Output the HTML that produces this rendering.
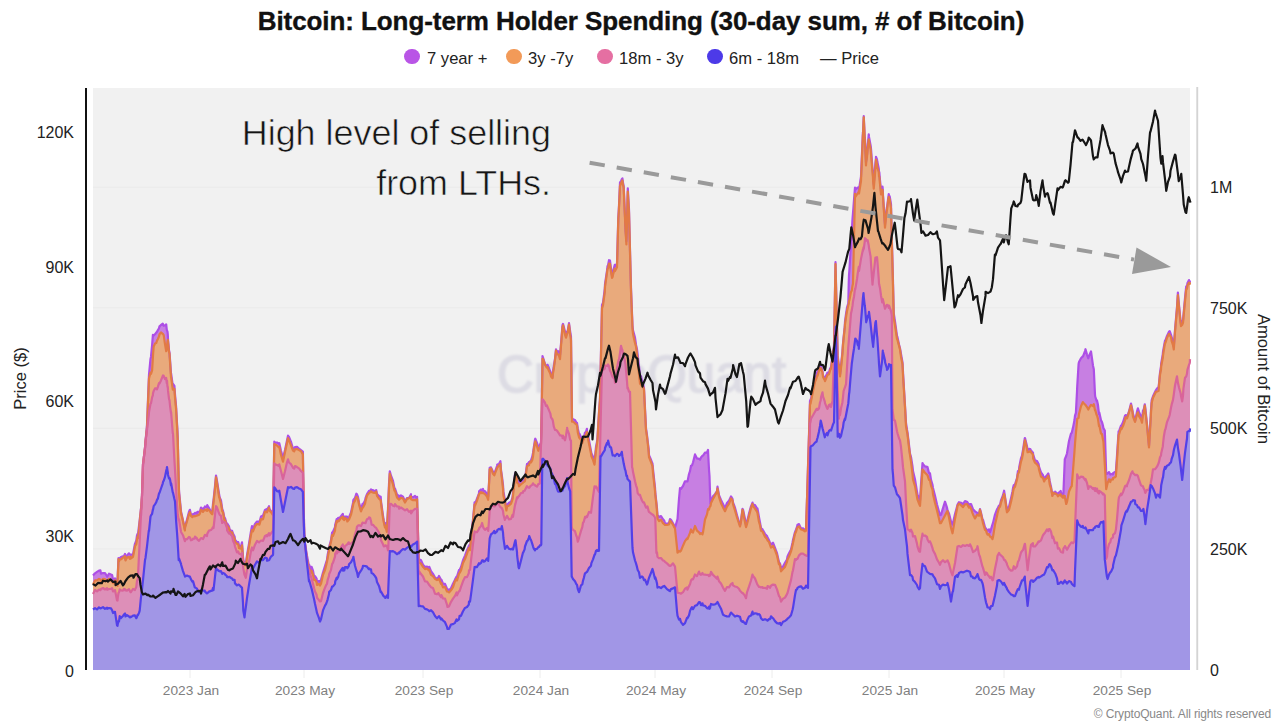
<!DOCTYPE html>
<html><head><meta charset="utf-8"><style>
html,body{margin:0;padding:0;background:#fff;width:1280px;height:725px;overflow:hidden}
body{position:relative;font-family:"Liberation Sans",sans-serif}
svg{position:absolute;left:0;top:0}
.title{position:absolute;left:0;width:1282px;top:6px;text-align:center;font-weight:bold;font-size:26px;letter-spacing:-0.08px;-webkit-text-stroke:0.35px #111;color:#111;white-space:nowrap}
.legend{position:absolute;top:47.5px;left:0;width:1280px;height:22px;font-size:16.6px;color:#222}
.li{position:absolute;top:0;white-space:nowrap;line-height:22px}
.dot{position:absolute;width:15.5px;height:15.5px;border-radius:50%;top:1px}
.copy{position:absolute;right:9px;top:707px;font-size:12px;letter-spacing:-0.15px;color:#888;white-space:nowrap}
</style></head><body>
<svg width="1280" height="725" viewBox="0 0 1280 725">
<defs><filter id="bl" x="-5%" y="-20%" width="110%" height="140%"><feGaussianBlur stdDeviation="1"/></filter></defs>
<rect x="93" y="88" width="1097" height="582" fill="#f1f1f1"/>
<line x1="93" x2="1190" y1="548.9" y2="548.9" stroke="#eaeaea" stroke-width="1"/><line x1="93" x2="1190" y1="428.3" y2="428.3" stroke="#eaeaea" stroke-width="1"/><line x1="93" x2="1190" y1="307.7" y2="307.7" stroke="#eaeaea" stroke-width="1"/><line x1="93" x2="1190" y1="187.1" y2="187.1" stroke="#eaeaea" stroke-width="1"/>
<text x="641.5" y="392" text-anchor="middle" font-size="51" fill="#dddce4" stroke="#dddce4" stroke-width="1.5" filter="url(#bl)" font-family="Liberation Sans, sans-serif">CryptoQuant</text>
<path d="M93,575.5 L95,573.3 L97,571.9 L99,570.6 L100.4,570.4 L101,573.6 L103,573.0 L105,573.1 L107,576.1 L107.3,576.7 L109,573.7 L111,574.6 L112.1,575.0 L113,579.3 L114.9,580.1 L115,578.3 L117,581.9 L117.5,583.2 L117.7,576.2 L118.5,558.2 L119,558.8 L119.7,558.2 L121,557.0 L123,556.3 L123.9,556.2 L125,553.9 L125.2,556.9 L125.5,559.3 L127,555.5 L129,553.3 L130,554.7 L130.8,554.9 L131,554.6 L133,554.4 L134.9,543.9 L135,543.9 L136.3,540.5 L137,535.4 L137.7,533.7 L138,534.2 L139,526.0 L139.7,520.1 L141,508.0 L141.1,508.9 L142,495.5 L143,464.4 L145,448.0 L145.5,441.6 L147,425.0 L148.8,379.4 L149,374.5 L150.5,358.9 L151,356.7 L152.1,345.2 L152.9,334.9 L153,336.2 L153.7,335.5 L155,334.3 L156.2,332.7 L157,331.7 L157.9,330.0 L159,328.3 L159.5,326.4 L161,325.0 L162.8,323.7 L163,325.0 L163.7,325.8 L165,325.2 L166.2,324.3 L166.75,329.6 L167,330.5 L167.5,331.6 L167.8,334.6 L168,339.0 L169,350.3 L169.5,352.5 L170,359.3 L171,373.6 L171.1,373.4 L172.8,385.6 L173,383.8 L174.4,385.8 L175,394.3 L176.1,406.6 L177,422.9 L177.5,431.4 L177.7,436.5 L178.7,478.6 L179,490.7 L181,511.2 L181.2,512.2 L183,520.5 L184.9,529.6 L185,526.8 L187,519.5 L189,511.7 L189.9,509.8 L191,514.8 L192.4,515.2 L193,514.0 L194.8,513.7 L195,512.9 L197,513.6 L197.3,511.9 L199,511.9 L199.8,512.0 L201,507.5 L203,509.5 L204.8,506.9 L205,506.4 L207,507.2 L207.3,505.2 L209,508.0 L211,511.7 L212.2,513.6 L213,503.7 L213.5,500.3 L215,486.1 L216,475.5 L217,480.9 L219,493.6 L219.7,497.4 L221,500.5 L222.2,509.0 L223,511.0 L224.7,519.3 L225,518.1 L227,525.2 L227.1,523.4 L229,526.4 L229.6,529.4 L231,530.5 L232.1,530.8 L233,533.6 L234.6,536.5 L235,539.6 L237,542.1 L238.3,542.1 L239,545.8 L241,546.2 L242,542.4 L243,556.8 L243.3,559.8 L244.5,563.5 L245,562.6 L245.8,563.3 L247,555.2 L249,543.7 L251,531.3 L252,526.0 L253,529.1 L255,523.9 L257,521.5 L259,521.5 L259.4,522.6 L261,516.4 L263,515.5 L265,509.9 L266.9,509.0 L267,510.2 L269,506.2 L269.4,508.8 L271,511.1 L273,512.0 L273.1,511.1 L274.3,441.7 L275,442.7 L277,442.5 L279,443.9 L279.3,443.2 L281,450.7 L283,458.2 L285,450.1 L287,440.6 L288,435.7 L289,437.0 L291,441.9 L293,448.7 L294.2,449.7 L295,447.2 L297,446.8 L299,448.7 L301,450.2 L302.9,451.6 L303,460.1 L304.2,534.9 L305,543.8 L307,555.8 L309,566.3 L309.1,564.7 L311,569.1 L311.6,566.8 L313,570.7 L314.1,576.7 L315,576.1 L316.6,578.6 L317,582.4 L319,580.9 L320,581.9 L321,579.9 L323,572.5 L325,566.1 L326.1,562.6 L327,559.8 L327.6,555.3 L329,548.0 L329.1,547.1 L331,540.1 L332.1,532.6 L333,531.8 L335,527.2 L335.2,524.7 L336.7,519.1 L337,519.7 L338.2,517.8 L339,518.7 L341,516.2 L342.8,513.8 L343,515.5 L344.3,517.4 L345,516.6 L347,516.6 L347.3,519.6 L348.8,518.2 L349,517.2 L351,512.4 L353,502.9 L353.4,500.0 L355,497.9 L356.4,493.7 L357,494.3 L358,497.0 L359,502.8 L361,509.8 L362.5,503.9 L363,504.4 L365,500.6 L365.5,498.1 L367,494.1 L368.6,491.5 L369,490.9 L370.1,490.8 L371,489.4 L371.6,489.9 L373,490.2 L375,491.2 L376.2,490.1 L377,493.9 L379,496.1 L380.7,496.8 L381,501.1 L383,515.6 L383.8,520.5 L385,525.9 L385.3,523.0 L386.8,528.7 L387,525.6 L388,508.7 L388.3,500.7 L389,484.2 L389.8,471.3 L391,475.7 L393,481.0 L394.4,488.1 L395,488.6 L397,494.7 L398.9,495.7 L399,497.1 L401,495.4 L403,496.6 L405,501.4 L407,498.2 L409,497.9 L411,494.2 L411.1,496.5 L413,497.3 L415,495.8 L417,498.9 L417.1,496.8 L418.7,558.8 L419,559.1 L421,560.3 L423,564.7 L425,567.0 L427,566.5 L429,568.3 L429.3,566.8 L431,571.1 L433,573.9 L435,577.5 L437,579.0 L438.4,577.1 L439,575.9 L441,579.7 L441.4,579.7 L443,583.7 L445,583.9 L447,588.6 L447.5,589.2 L449,590.1 L451,588.3 L453,583.8 L455,579.6 L456.6,576.5 L457,576.5 L459,570.1 L459.6,569.9 L461,567.0 L463,560.3 L465,555.6 L467,550.2 L468.8,546.2 L469,545.4 L470,548.3 L471,537.8 L473,519.4 L474.6,502.3 L475,504.0 L477,498.6 L479,493.4 L479.1,491.4 L481,489.5 L482.1,490.7 L483,489.0 L483.7,491.3 L485,491.1 L487,494.1 L488.2,496.6 L489,483.0 L489.7,467.8 L491,467.4 L493,471.7 L494.3,473.6 L495,471.9 L497,466.0 L497.3,464.5 L499,464.0 L500.4,461.2 L501,469.8 L501.9,476.0 L503,484.9 L503.4,491.4 L504.9,499.6 L505,500.9 L506.4,508.2 L507,504.9 L509,502.8 L511,501.8 L512.5,497.4 L513,492.5 L515,473.9 L515.5,472.7 L517,475.5 L517.1,480.1 L518.6,481.0 L519,482.5 L521,481.3 L523,479.9 L523.1,479.9 L524.6,478.6 L525,478.9 L527,464.1 L527.7,463.8 L529,462.1 L529.2,462.0 L530.7,460.8 L531,460.3 L532.2,456.9 L533,453.0 L533.8,447.3 L535,439.6 L535.3,438.7 L537,442.9 L538.3,447.6 L539,446.4 L539.8,444.9 L541,442.5 L541.3,432.9 L542.3,371.5 L542.5,356.0 L543,357.6 L545,363.9 L545.9,365.9 L547,366.1 L547.5,364.8 L549,368.2 L550.4,371.8 L551,374.4 L552.5,377.1 L553,370.6 L553.75,366.6 L555,358.7 L556,349.3 L557,351.9 L558,351.1 L559,352.0 L560,355.1 L561,343.6 L562.5,325.1 L562.6,324.9 L563,323.9 L565,331.6 L566,335.6 L567,332.7 L567.1,331.5 L567.5,332.1 L569,323.2 L570.2,331.6 L571,336.7 L571.7,392.3 L572,418.1 L573,419.3 L575,420.0 L576.3,422.4 L577,422.9 L577.8,428.5 L579,433.8 L579.3,433.6 L581,437.1 L582.3,441.5 L583,438.8 L583.8,437.7 L585,432.5 L585.4,433.7 L586.9,428.8 L587,431.7 L589,440.1 L591,451.0 L591.4,453.1 L593,456.8 L594.5,462.1 L595,456.4 L596,446.8 L597,441.8 L597.5,436.8 L599,412.2 L600,398.7 L600.5,376.0 L601,351.1 L602,305.0 L603,302.8 L604.8,288.7 L605,284.2 L607,270.7 L607.5,266.2 L608.1,265.0 L609,260.2 L610,260.6 L611,268.8 L612,275.1 L612.7,273.2 L613,271.5 L614.7,264.9 L615,266.8 L617,263.4 L618.3,217.6 L618.8,209.2 L619,205.8 L620,182.5 L621,181.3 L621.8,179.1 L622.4,178.4 L623,182.6 L623.7,186.2 L625,215.6 L625.5,228.7 L626.3,239.6 L626.4,241.1 L627,218.7 L627.5,198.6 L627.8,188.4 L629,209.6 L630,250.1 L631,287.5 L632.1,315.7 L632.5,325.6 L633,330.4 L635,337.6 L636,344.7 L637,349.5 L637.7,355.0 L639,366.1 L640,375.0 L641,376.3 L642,380.4 L643,383.4 L644,388.2 L645,408.2 L646,428.4 L647,435.0 L647.5,439.7 L648.7,449.2 L649,455.1 L651,459.8 L652.5,463.7 L653,469.1 L655,487.3 L655.3,492.5 L656.4,502.7 L657,508.4 L657.5,515.4 L659,516.9 L661,516.1 L663,519.3 L664.2,520.5 L665,523.3 L667,523.8 L669,523.1 L670,519.1 L671,519.9 L673,523.3 L675,527.8 L677,520.8 L677.5,519.1 L679,498.8 L680,488.1 L681,488.8 L683,486.0 L685,481.3 L687,481.1 L687.5,481.4 L689,474.0 L690,471.1 L691,465.7 L692,465.4 L693,462.5 L695,454.4 L697,458.4 L699,458.8 L700,459.7 L701,457.5 L702.5,455.6 L703,455.6 L705,452.6 L707,452.3 L708,449.9 L709,469.6 L709.5,476.1 L710,492.4 L710.5,503.8 L711,501.6 L713,496.2 L715,494.2 L717,491.0 L717.5,486.7 L719,495.2 L721,500.0 L723,504.0 L725,508.5 L727,503.0 L729,500.6 L731,496.4 L732.5,498.8 L733,502.4 L735,507.7 L737,515.4 L739,522.1 L740,525.3 L741,520.7 L742.5,508.9 L743,509.5 L745,518.9 L746,524.8 L747,522.2 L749,513.6 L751,506.3 L752.5,502.6 L753,504.5 L755,505.1 L757,508.4 L757.5,508.6 L759,517.2 L760,522.5 L761,528.0 L762.5,529.3 L763,530.3 L765,533.9 L767,536.0 L767.5,537.2 L769,540.2 L770,543.1 L771,544.4 L772.5,543.2 L773,542.7 L775,547.9 L777,553.2 L779,562.3 L780,563.4 L781,568.2 L783,566.5 L785,562.9 L787,559.5 L787.5,556.4 L789,553.2 L791,549.6 L792.5,542.8 L793,540.0 L795,532.1 L796,529.7 L797,526.9 L797.5,524.7 L799,524.1 L801,528.5 L803,528.3 L805,530.4 L806,528.3 L807,498.8 L808,466.1 L809,434.4 L810,400.8 L810.5,399.6 L811,398.7 L813,388.5 L815,379.5 L816.6,374.5 L817,372.4 L817.5,371.7 L819,367.9 L820,366.2 L820.7,367.7 L821,365.7 L822.5,371.0 L823,375.5 L824.8,378.6 L825,377.8 L827,373.7 L827.5,372.5 L829,372.6 L830,368.7 L830.3,368.2 L831,367.0 L832.5,356.1 L833,351.2 L834,346.3 L835,291.1 L835.5,262.2 L835.9,278.8 L837,327.2 L837.7,355.4 L838.9,366.0 L839,364.5 L840,374.7 L841,365.6 L842.4,352.1 L843,343.7 L843.6,337.4 L844.8,326.0 L845,321.6 L846,314.1 L847,307.6 L848.3,303.4 L848.75,282.4 L849,275.4 L849.4,270.2 L850.6,249.8 L851,241.8 L851.8,230.8 L852.5,219.1 L853,213.1 L854,199.9 L855,187.6 L855.3,189.6 L857,188.2 L857.7,187.6 L858.75,187.8 L858.8,187.2 L859,189.4 L861,176.6 L862.9,132.2 L863,133.6 L863.5,121.5 L863.75,116.2 L864.8,138.0 L865,139.5 L866,162.5 L866.2,160.6 L867,154.8 L867.7,145.6 L868.75,134.4 L869,136.9 L870.6,145.5 L871,148.7 L872.5,169.2 L873,174.0 L873.1,176.7 L873.75,184.1 L875,168.6 L875.4,162.8 L875.9,159.0 L876,156.8 L877,159.5 L877.3,161.6 L878.75,168.5 L879,171.6 L879.3,172.2 L880,180.2 L881,190.5 L882.2,190.4 L882.5,186.7 L882.8,189.4 L883,195.1 L885,224.4 L885.1,222.6 L886.9,207.1 L887,207.4 L888,199.7 L888.75,194.2 L889,195.5 L889.7,196.4 L891,204.1 L891.8,237.4 L892.5,262.7 L893,281.8 L893.75,313.1 L895,321.5 L897,335.8 L897.5,337.2 L899,344.5 L900,348.2 L901,354.0 L902.5,362.4 L903,372.0 L905,405.6 L906,422.8 L907,429.7 L907.5,432.5 L909,444.8 L910,453.6 L911,457.0 L912.5,466.4 L913,471.1 L915,479.5 L917,491.7 L917.5,494.8 L919,497.8 L920,500.5 L921,484.6 L922.5,463.0 L923,464.1 L925,466.4 L927,466.8 L927.5,467.0 L929,472.9 L930,473.3 L931,479.8 L932.5,484.8 L933,488.0 L935,495.8 L937,504.5 L939,511.7 L940,515.2 L941,514.7 L943,508.0 L945,501.7 L947,507.7 L947.5,510.2 L949,513.4 L951,521.4 L952.5,524.5 L953,522.9 L955,514.0 L957,506.9 L957.5,504.5 L959,502.2 L961,502.7 L963,504.1 L965,501.1 L967,501.7 L969,504.9 L970,504.1 L971,504.0 L972.5,507.8 L973,509.4 L975,511.4 L977,512.6 L977.5,513.7 L979,513.9 L980,509.0 L981,512.7 L982.5,519.6 L983,519.9 L985,527.4 L986,528.5 L987,530.7 L987.5,530.6 L989,529.3 L990,532.5 L991,529.3 L992.5,524.4 L993,522.9 L995,514.6 L997,509.3 L997.5,508.7 L999,505.6 L1000,505.4 L1001,500.3 L1003,495.2 L1004.1,490.7 L1005,496.6 L1006.9,509.6 L1007,508.7 L1009,506.7 L1011,498.3 L1012.5,491.5 L1013,488.1 L1013.8,485.1 L1015,484.3 L1017,478.1 L1017.9,471.3 L1019,470.1 L1019.3,466.7 L1021,458.1 L1022,455.8 L1023,450.0 L1024.8,438.1 L1025,438.1 L1027,446.3 L1027.6,450.4 L1029,448.8 L1030.3,449.1 L1031,450.4 L1033,452.7 L1033.1,454.4 L1035,460.3 L1037,461.0 L1038.6,464.0 L1039,466.7 L1041,472.5 L1043,475.2 L1044.1,479.2 L1045,477.4 L1047,475.2 L1048.3,473.5 L1049,476.5 L1049.7,480.9 L1051,486.7 L1052.4,495.3 L1053,492.4 L1055,493.6 L1055.2,491.7 L1057,493.6 L1057.9,493.6 L1059,492.6 L1060.7,491.0 L1061,492.8 L1063,495.2 L1063.4,493.4 L1064.8,459.1 L1065,458.8 L1066.2,456.0 L1067,453.3 L1069,441.0 L1071,433.5 L1071.7,432.9 L1073,427.6 L1074.5,420.0 L1075,415.6 L1075.9,412.9 L1077,391.6 L1077.2,386.9 L1078.6,363.9 L1079,361.9 L1081,358.2 L1082.8,356.3 L1083,356.4 L1085,351.1 L1085.5,349.2 L1087,354.6 L1088.3,358.3 L1089,355.9 L1091,351.4 L1093,365.7 L1093.8,369.2 L1095,394.5 L1095.2,396.5 L1096.6,400.9 L1097,400.4 L1097.9,404.5 L1099,414.0 L1099.3,412.5 L1101,420.3 L1102,422.1 L1103,425.7 L1103.4,428.1 L1104.8,430.5 L1105,436.1 L1106.2,473.8 L1107,473.8 L1107.6,473.6 L1109,472.1 L1110.3,474.5 L1111,474.0 L1113,474.4 L1113.1,473.1 L1115,471.9 L1115.9,471.4 L1117,455.7 L1118.6,431.3 L1119,431.4 L1121,425.6 L1121.4,425.8 L1123,422.3 L1125,415.7 L1125.5,415.1 L1126.9,415.6 L1127,416.9 L1129,411.5 L1131,403.6 L1132.4,410.1 L1133,413.9 L1135,420.4 L1135.2,420.6 L1137,411.6 L1137.9,408.3 L1139,411.9 L1141,416.6 L1142,419.4 L1143,410.4 L1143.4,411.3 L1144.8,404.3 L1145,405.6 L1145.4,408.6 L1147,424.2 L1149,445.6 L1150.7,415.8 L1151,409.5 L1151.7,400.1 L1153,396.3 L1155,392.0 L1156,390.0 L1157,388.5 L1158.6,387.0 L1159,383.4 L1160,372.8 L1161,366.2 L1161.2,363.5 L1162.8,354.1 L1163,351.7 L1163.8,347.1 L1165,340.6 L1165.5,340.2 L1167,335.9 L1169,331.6 L1169.7,331.1 L1171,334.8 L1171.7,337.4 L1173,342.3 L1173.8,346.5 L1175,330.0 L1177,306.9 L1177.9,292.6 L1179,305.2 L1180.7,322.2 L1181,323.5 L1182.2,320.8 L1183,320.6 L1183.4,316.2 L1185,298.1 L1186.2,286.4 L1187,287.2 L1187.4,283.3 L1189,280.1 L1189.8,281.8 L1190,280.6 L1190,670 L93,670 Z" fill="#c77fe2"/>
<path d="M93,584.5 L95,580.4 L97,580.4 L99,578.9 L100.4,579.8 L101,581.8 L103,578.9 L105,579.2 L107,581.0 L107.3,580.7 L109,578.8 L111,580.7 L112.1,581.1 L113,583.1 L114.9,583.3 L115,580.3 L117,584.2 L117.5,585.9 L117.7,578.2 L118.5,559.2 L119,561.3 L119.7,559.8 L121,559.3 L123,557.6 L123.9,557.1 L125,556.2 L125.2,558.4 L125.5,560.4 L127,557.6 L129,556.9 L130,558.9 L130.8,556.7 L131,558.4 L133,556.8 L134.9,547.1 L135,546.1 L136.3,544.2 L137,539.3 L137.7,536.3 L138,538.2 L139,529.8 L139.7,522.0 L141,509.4 L141.1,509.7 L142,495.5 L143,464.4 L145,448.0 L145.5,441.6 L147,427.4 L148.8,383.4 L149,378.5 L150.5,372.5 L151,373.8 L152.1,370.5 L152.9,357.5 L153,355.1 L153.7,346.5 L155,343.6 L156.2,343.1 L157,340.6 L157.9,339.0 L159,336.4 L159.5,334.2 L161,332.5 L162.8,333.8 L163,334.2 L163.7,335.2 L165,344.1 L166.2,351.2 L166.75,349.5 L167,346.0 L167.5,341.2 L167.8,339.8 L168,341.4 L169,351.9 L169.5,353.7 L170,361.8 L171,377.3 L171.1,377.2 L172.8,389.6 L173,388.2 L174.4,389.0 L175,397.8 L176.1,409.2 L177,425.7 L177.5,435.4 L177.7,438.9 L178.7,480.7 L179,493.3 L181,513.6 L181.2,514.0 L183,521.3 L184.9,530.5 L185,527.7 L187,521.2 L189,514.0 L189.9,512.2 L191,515.9 L192.4,517.2 L193,516.3 L194.8,516.0 L195,516.3 L197,515.5 L197.3,515.5 L199,514.7 L199.8,513.7 L201,509.9 L203,511.9 L204.8,509.6 L205,509.7 L207,510.9 L207.3,509.2 L209,510.1 L211,513.0 L212.2,514.3 L213,506.6 L213.5,502.4 L215,489.0 L216,477.3 L217,482.9 L219,496.7 L219.7,498.7 L221,503.8 L222.2,511.2 L223,512.3 L224.7,521.7 L225,520.1 L227,526.4 L227.1,525.7 L229,528.1 L229.6,531.2 L231,532.9 L232.1,532.3 L233,535.8 L234.6,538.8 L235,541.9 L237,543.7 L238.3,544.4 L239,548.3 L241,548.8 L242,545.4 L243,559.0 L243.3,562.6 L244.5,565.2 L245,564.9 L245.8,565.4 L247,557.7 L249,546.4 L251,534.8 L252,530.1 L253,531.4 L255,526.3 L257,524.1 L259,524.2 L259.4,524.7 L261,519.1 L263,519.3 L265,511.7 L266.9,511.5 L267,512.4 L269,507.7 L269.4,510.2 L271,512.2 L273,515.1 L273.1,514.4 L274.3,444.0 L275,444.4 L277,445.5 L279,447.5 L279.3,446.8 L281,454.9 L283,461.7 L285,452.1 L287,442.9 L288,438.1 L289,440.4 L291,445.3 L293,450.6 L294.2,451.4 L295,449.4 L297,449.0 L299,450.1 L301,451.2 L302.9,454.4 L303,462.3 L304.2,534.9 L305,543.8 L307,558.9 L309,569.7 L309.1,568.4 L311,572.8 L311.6,570.8 L313,574.6 L314.1,580.0 L315,579.7 L316.6,582.1 L317,584.9 L319,584.0 L320,585.5 L321,583.8 L323,574.7 L325,570.0 L326.1,565.4 L327,561.5 L327.6,558.3 L329,550.8 L329.1,548.9 L331,542.0 L332.1,535.1 L333,535.9 L335,530.7 L335.2,528.1 L336.7,521.0 L337,522.4 L338.2,520.5 L339,521.0 L341,517.8 L342.8,516.6 L343,518.9 L344.3,520.1 L345,518.0 L347,519.5 L347.3,521.5 L348.8,519.7 L349,519.6 L351,514.7 L353,505.5 L353.4,503.5 L355,500.6 L356.4,496.9 L357,497.1 L358,499.3 L359,504.5 L361,511.4 L362.5,507.6 L363,507.6 L365,503.8 L365.5,501.0 L367,495.6 L368.6,493.6 L369,493.2 L370.1,492.2 L371,491.3 L371.6,491.9 L373,492.6 L375,492.9 L376.2,491.6 L377,495.8 L379,498.7 L380.7,500.2 L381,503.4 L383,518.1 L383.8,522.2 L385,527.4 L385.3,525.7 L386.8,531.8 L387,529.8 L388,511.2 L388.3,504.4 L389,488.0 L389.8,473.7 L391,478.1 L393,484.4 L394.4,490.6 L395,490.6 L397,497.4 L398.9,499.5 L399,499.6 L401,497.8 L403,498.6 L405,502.6 L407,498.9 L409,498.2 L411,496.4 L411.1,499.3 L413,500.2 L415,499.8 L417,501.0 L417.1,499.4 L418.7,561.5 L419,562.4 L421,563.7 L423,566.8 L425,569.1 L427,568.5 L429,570.6 L429.3,570.0 L431,574.8 L433,576.1 L435,578.9 L437,580.1 L438.4,579.4 L439,578.7 L441,583.9 L441.4,582.9 L443,587.3 L445,586.9 L447,591.5 L447.5,591.4 L449,592.4 L451,590.3 L453,587.2 L455,581.2 L456.6,578.8 L457,580.4 L459,573.6 L459.6,572.9 L461,570.4 L463,563.0 L465,559.0 L467,553.5 L468.8,548.2 L469,548.4 L470,550.2 L471,539.1 L473,521.4 L474.6,504.7 L475,505.6 L477,500.6 L479,494.3 L479.1,494.2 L481,492.1 L482.1,493.2 L483,492.6 L483.7,493.4 L485,494.1 L487,496.6 L488.2,499.8 L489,484.7 L489.7,469.4 L491,468.3 L493,473.8 L494.3,475.3 L495,473.4 L497,468.3 L497.3,467.5 L499,465.5 L500.4,463.9 L501,471.4 L501.9,478.7 L503,488.3 L503.4,495.6 L504.9,501.7 L505,501.8 L506.4,510.5 L507,506.5 L509,505.5 L511,503.6 L512.5,499.4 L513,495.3 L515,477.6 L515.5,475.4 L517,479.2 L517.1,482.7 L518.6,483.8 L519,486.3 L521,484.2 L523,482.8 L523.1,482.4 L524.6,481.6 L525,480.7 L527,466.6 L527.7,465.7 L529,465.3 L529.2,464.0 L530.7,461.5 L531,462.4 L532.2,460.2 L533,456.5 L533.8,449.6 L535,442.8 L535.3,441.4 L537,446.4 L538.3,450.8 L539,448.6 L539.8,447.6 L541,444.3 L541.3,432.9 L542.3,373.4 L542.5,358.8 L543,358.8 L545,364.8 L545.9,366.3 L547,367.7 L547.5,367.1 L549,371.1 L550.4,373.7 L551,376.6 L552.5,378.2 L553,373.2 L553.75,369.0 L555,359.9 L556,350.7 L557,353.9 L558,354.3 L559,355.7 L560,359.1 L561,346.0 L562.5,326.9 L562.6,328.2 L563,325.3 L565,334.7 L566,337.6 L567,333.9 L567.1,334.0 L567.5,333.3 L569,324.6 L570.2,334.9 L571,340.2 L571.7,395.1 L572,421.7 L573,421.5 L575,423.3 L576.3,424.3 L577,425.3 L577.8,432.4 L579,437.0 L579.3,437.7 L581,439.7 L582.3,442.9 L583,440.3 L583.8,439.5 L585,435.8 L585.4,436.4 L586.9,432.1 L587,434.0 L589,443.6 L591,453.5 L591.4,456.3 L593,459.9 L594.5,464.7 L595,459.6 L596,450.4 L597,443.8 L597.5,439.4 L599,413.4 L600,399.9 L600.5,378.2 L601,354.2 L602,308.4 L603,305.1 L604.8,292.2 L605,286.8 L607,272.9 L607.5,269.2 L608.1,268.1 L609,263.6 L610,263.8 L611,271.8 L612,277.9 L612.7,276.7 L613,274.7 L614.7,268.7 L615,271.1 L617,267.3 L618.3,219.4 L618.8,211.8 L619,207.2 L620,186.2 L621,183.3 L621.8,181.6 L622.4,180.4 L623,184.8 L623.7,188.0 L625,218.1 L625.5,230.7 L626.3,242.7 L626.4,244.5 L627,223.2 L627.5,202.0 L627.8,191.5 L629,212.5 L630,251.9 L631,291.1 L632.1,318.3 L632.5,328.8 L633,334.0 L635,342.9 L636,346.5 L637,354.4 L637.7,361.0 L639,373.9 L640,383.6 L641,384.6 L642,386.1 L643,386.7 L644,389.6 L645,410.8 L646,429.9 L647,436.9 L647.5,440.9 L648.7,452.3 L649,457.1 L651,462.2 L652.5,466.2 L653,473.0 L655,490.8 L655.3,494.9 L656.4,504.5 L657,511.8 L657.5,518.7 L659,521.0 L661,519.8 L663,523.2 L664.2,524.2 L665,525.0 L667,524.9 L669,524.5 L670,520.8 L671,521.8 L673,524.7 L675,528.5 L677,547.4 L677.5,552.7 L679,550.9 L680,551.6 L681,550.7 L683,545.7 L685,541.1 L687,538.5 L687.5,539.0 L689,535.4 L690,532.9 L691,529.5 L692,532.0 L693,532.5 L695,526.0 L697,530.7 L699,532.4 L700,534.0 L701,533.2 L702.5,534.3 L703,532.3 L705,519.5 L707,514.4 L708,509.2 L709,509.6 L709.5,507.6 L710,506.3 L710.5,506.1 L711,503.0 L713,499.0 L715,495.4 L717,491.8 L717.5,488.7 L719,496.8 L721,503.2 L723,507.4 L725,511.2 L727,506.5 L729,503.9 L731,498.5 L732.5,500.4 L733,504.2 L735,510.5 L737,517.5 L739,523.5 L740,526.5 L741,521.7 L742.5,509.8 L743,511.4 L745,522.2 L746,527.1 L747,524.1 L749,516.0 L751,508.1 L752.5,504.0 L753,505.9 L755,508.6 L757,511.6 L757.5,513.1 L759,522.0 L760,525.2 L761,530.8 L762.5,531.4 L763,532.5 L765,536.8 L767,539.0 L767.5,540.5 L769,541.8 L770,544.8 L771,547.5 L772.5,546.7 L773,545.9 L775,550.1 L777,555.5 L779,564.4 L780,564.5 L781,571.4 L783,569.1 L785,566.9 L787,561.8 L787.5,559.4 L789,556.6 L791,551.4 L792.5,545.3 L793,543.1 L795,533.8 L796,531.7 L797,528.4 L797.5,527.4 L799,526.4 L801,529.5 L803,530.0 L805,531.3 L806,530.8 L807,500.1 L808,468.6 L809,436.7 L810,404.5 L810.5,403.9 L811,401.2 L813,391.4 L815,381.8 L816.6,378.0 L817,375.9 L817.5,375.9 L819,370.7 L820,368.0 L820.7,370.0 L821,368.3 L822.5,372.5 L823,376.9 L824.8,380.1 L825,381.1 L827,376.1 L827.5,374.9 L829,374.2 L830,370.7 L830.3,369.8 L831,368.9 L832.5,358.6 L833,353.3 L834,348.3 L835,292.2 L835.5,264.1 L835.9,281.4 L837,328.4 L837.7,358.6 L838.9,367.8 L839,365.9 L840,376.3 L841,368.2 L842.4,354.0 L843,344.6 L843.6,338.9 L844.8,327.2 L845,324.4 L846,317.2 L847,311.1 L848.3,305.2 L848.75,303.7 L849,301.1 L849.4,300.4 L850.6,293.8 L851,292.1 L851.8,290.5 L852.5,285.7 L853,283.5 L854,238.8 L855,193.8 L855.3,196.9 L857,194.3 L857.7,193.6 L858.75,191.9 L858.8,191.1 L859,193.5 L861,181.0 L862.9,134.8 L863,135.4 L863.5,122.9 L863.75,117.4 L864.8,141.0 L865,143.1 L866,165.5 L866.2,162.3 L867,157.0 L867.7,148.9 L868.75,139.4 L869,141.5 L870.6,149.0 L871,154.0 L872.5,172.4 L873,177.9 L873.1,181.1 L873.75,188.6 L875,173.8 L875.4,167.8 L875.9,162.8 L876,159.7 L877,164.4 L877.3,167.0 L878.75,172.1 L879,176.4 L879.3,176.6 L880,184.0 L881,194.5 L882.2,194.4 L882.5,189.9 L882.8,192.4 L883,196.8 L885,227.6 L885.1,226.4 L886.9,209.2 L887,210.2 L888,201.6 L888.75,196.8 L889,198.0 L889.7,199.4 L891,208.3 L891.8,241.1 L892.5,266.9 L893,286.1 L893.75,317.9 L895,325.3 L897,339.0 L897.5,339.9 L899,345.6 L900,349.6 L901,356.9 L902.5,364.4 L903,375.0 L905,407.4 L906,426.3 L907,431.7 L907.5,434.3 L909,447.7 L910,455.1 L911,461.5 L912.5,474.0 L913,479.5 L915,486.1 L917,497.1 L917.5,499.7 L919,503.5 L920,505.9 L921,491.7 L922.5,469.6 L923,470.0 L925,472.8 L927,474.8 L927.5,475.1 L929,479.8 L930,480.3 L931,485.6 L932.5,489.6 L933,494.2 L935,502.8 L937,510.4 L939,518.8 L940,523.2 L941,523.1 L943,519.3 L945,515.4 L947,511.6 L947.5,511.1 L949,517.5 L951,527.8 L952.5,533.3 L953,530.6 L955,518.9 L957,509.0 L957.5,506.0 L959,503.7 L961,505.1 L963,507.1 L965,504.3 L967,504.0 L969,507.6 L970,506.6 L971,508.7 L972.5,513.1 L973,514.4 L975,518.4 L977,514.9 L977.5,515.0 L979,515.7 L980,509.9 L981,514.1 L982.5,520.8 L983,523.1 L985,529.9 L986,530.6 L987,533.6 L987.5,534.6 L989,534.1 L990,536.7 L991,536.8 L992.5,539.1 L993,537.0 L995,524.6 L997,516.1 L997.5,513.3 L999,507.7 L1000,506.7 L1001,502.5 L1003,497.1 L1004.1,494.0 L1005,498.2 L1006.9,512.0 L1007,512.3 L1009,509.8 L1011,502.0 L1012.5,495.0 L1013,492.0 L1013.8,488.2 L1015,486.8 L1017,479.4 L1017.9,474.0 L1019,472.2 L1019.3,470.0 L1021,461.6 L1022,458.5 L1023,452.8 L1024.8,440.9 L1025,440.2 L1027,449.1 L1027.6,452.2 L1029,451.9 L1030.3,451.0 L1031,452.2 L1033,454.6 L1033.1,458.3 L1035,462.7 L1037,464.3 L1038.6,466.6 L1039,469.5 L1041,476.7 L1043,478.0 L1044.1,481.5 L1045,479.5 L1047,478.1 L1048.3,475.7 L1049,478.7 L1049.7,484.4 L1051,488.4 L1052.4,496.0 L1053,492.8 L1055,493.7 L1055.2,493.4 L1057,494.6 L1057.9,496.3 L1059,495.2 L1060.7,494.3 L1061,495.8 L1063,497.8 L1063.4,495.5 L1064.8,496.1 L1065,497.9 L1066.2,504.0 L1067,501.8 L1069,491.5 L1071,487.0 L1071.7,486.3 L1073,470.5 L1074.5,451.2 L1075,443.6 L1075.9,433.2 L1077,421.9 L1077.2,418.9 L1078.6,417.8 L1079,414.0 L1081,406.2 L1082.8,402.1 L1083,402.5 L1085,404.5 L1085.5,405.0 L1087,407.1 L1088.3,409.5 L1089,408.0 L1091,404.9 L1093,406.0 L1093.8,404.2 L1095,410.2 L1095.2,409.9 L1096.6,415.0 L1097,415.4 L1097.9,418.6 L1099,426.0 L1099.3,425.3 L1101,433.5 L1102,434.2 L1103,439.7 L1103.4,441.5 L1104.8,464.4 L1105,467.5 L1106.2,489.2 L1107,485.7 L1107.6,483.1 L1109,479.3 L1110.3,482.0 L1111,479.7 L1113,479.3 L1113.1,478.1 L1115,477.3 L1115.9,476.2 L1117,460.7 L1118.6,435.0 L1119,434.4 L1121,428.1 L1121.4,429.3 L1123,426.1 L1125,420.3 L1125.5,417.3 L1126.9,417.6 L1127,418.5 L1129,412.3 L1131,405.3 L1132.4,411.7 L1133,416.7 L1135,421.9 L1135.2,421.3 L1137,414.3 L1137.9,412.3 L1139,416.1 L1141,419.5 L1142,422.8 L1143,414.4 L1143.4,413.8 L1144.8,405.6 L1145,407.3 L1145.4,411.6 L1147,425.5 L1149,447.5 L1150.7,419.2 L1151,412.6 L1151.7,403.0 L1153,397.8 L1155,393.8 L1156,391.6 L1157,391.6 L1158.6,390.8 L1159,385.1 L1160,374.8 L1161,369.8 L1161.2,366.0 L1162.8,358.0 L1163,355.6 L1163.8,350.4 L1165,343.1 L1165.5,342.6 L1167,337.7 L1169,333.8 L1169.7,335.0 L1171,337.0 L1171.7,341.2 L1173,345.1 L1173.8,349.5 L1175,332.2 L1177,309.0 L1177.9,295.2 L1179,307.4 L1180.7,324.0 L1181,326.1 L1182.2,324.7 L1183,322.8 L1183.4,318.1 L1185,301.3 L1186.2,289.6 L1187,288.7 L1187.4,285.8 L1189,282.6 L1189.8,283.8 L1190,282.1 L1190,670 L93,670 Z" fill="#e9aa7c"/>
<path d="M93,594.0 L95,590.0 L97,591.3 L99,589.6 L100.4,590.2 L101,588.9 L103,588.0 L105,589.5 L107,588.2 L107.3,589.7 L109,589.0 L111,588.9 L112.1,588.1 L113,591.4 L114.9,590.9 L115,590.0 L117,600.4 L117.5,600.6 L117.7,598.4 L118.5,592.9 L119,592.6 L119.7,589.4 L121,590.3 L123,590.6 L123.9,588.9 L125,589.3 L125.2,590.4 L125.5,590.1 L127,590.6 L129,589.1 L130,591.4 L130.8,592.3 L131,591.9 L133,589.0 L134.9,590.0 L135,589.5 L136.3,586.9 L137,580.9 L137.7,579.2 L138,575.4 L139,555.4 L139.7,541.5 L141,514.7 L141.1,515.3 L142,495.5 L143,464.4 L145,448.0 L145.5,441.6 L147,430.2 L148.8,415.0 L149,412.1 L150.5,403.7 L151,403.2 L152.1,397.4 L152.9,395.1 L153,393.4 L153.7,390.9 L155,388.4 L156.2,388.3 L157,389.4 L157.9,386.9 L159,383.1 L159.5,383.5 L161,380.4 L162.8,375.8 L163,375.4 L163.7,375.8 L165,379.1 L166.2,378.0 L166.75,383.2 L167,380.7 L167.5,386.8 L167.8,387.0 L168,390.4 L169,398.8 L169.5,400.3 L170,405.5 L171,413.1 L171.1,412.2 L172.8,433.4 L173,433.5 L174.4,459.9 L175,469.5 L176.1,488.5 L177,503.9 L177.5,510.5 L177.7,514.3 L178.7,520.3 L179,519.2 L181,531.5 L181.2,532.2 L183,535.2 L184.9,541.1 L185,539.0 L187,539.3 L189,536.9 L189.9,537.4 L191,540.3 L192.4,539.8 L193,538.7 L194.8,538.7 L195,536.7 L197,538.3 L197.3,539.5 L199,540.8 L199.8,539.6 L201,538.1 L203,539.0 L204.8,535.2 L205,534.9 L207,536.0 L207.3,533.6 L209,530.6 L211,530.0 L212.2,528.6 L213,527.1 L213.5,528.0 L215,515.0 L216,506.1 L217,507.5 L219,513.3 L219.7,514.7 L221,515.9 L222.2,523.0 L223,521.5 L224.7,522.7 L225,522.5 L227,527.8 L227.1,530.4 L229,533.5 L229.6,532.6 L231,534.9 L232.1,535.8 L233,540.6 L234.6,544.3 L235,546.5 L237,552.4 L238.3,551.5 L239,553.5 L241,554.6 L242,553.0 L243,565.9 L243.3,568.1 L244.5,574.8 L245,575.8 L245.8,577.8 L247,569.7 L249,562.2 L251,550.9 L252,547.5 L253,550.3 L255,544.7 L257,540.9 L259,542.4 L259.4,542.0 L261,540.5 L263,540.8 L265,536.0 L266.9,535.1 L267,536.3 L269,533.1 L269.4,535.5 L271,533.3 L273,530.7 L273.1,526.9 L274.3,463.4 L275,464.3 L277,465.0 L279,465.9 L279.3,464.4 L281,471.1 L283,479.0 L285,471.2 L287,462.3 L288,459.3 L289,462.5 L291,464.2 L293,467.8 L294.2,468.7 L295,466.1 L297,467.1 L299,468.4 L301,471.0 L302.9,472.8 L303,478.6 L304.2,534.9 L305,543.8 L307,563.0 L309,573.8 L309.1,569.8 L311,576.7 L311.6,578.6 L313,583.9 L314.1,588.3 L315,591.5 L316.6,594.8 L317,597.7 L319,600.1 L320,601.5 L321,601.2 L323,593.0 L325,587.7 L326.1,585.1 L327,583.8 L327.6,580.2 L329,575.9 L329.1,574.2 L331,569.9 L332.1,564.1 L333,562.7 L335,556.7 L335.2,553.6 L336.7,551.1 L337,553.4 L338.2,550.8 L339,551.6 L341,547.4 L342.8,544.5 L343,545.9 L344.3,549.1 L345,546.1 L347,544.6 L347.3,544.2 L348.8,542.3 L349,543.8 L351,543.5 L353,541.8 L353.4,541.2 L355,534.3 L356.4,530.0 L357,526.8 L358,525.6 L359,525.2 L361,526.1 L362.5,522.6 L363,522.9 L365,522.9 L365.5,523.2 L367,519.2 L368.6,518.5 L369,517.4 L370.1,517.7 L371,521.0 L371.6,524.6 L373,524.8 L375,527.1 L376.2,527.9 L377,529.4 L379,532.5 L380.7,537.5 L381,540.2 L383,544.3 L383.8,546.3 L385,546.2 L385.3,545.3 L386.8,546.1 L387,545.9 L388,550.3 L388.3,549.1 L389,526.4 L389.8,504.0 L391,503.8 L393,505.7 L394.4,506.3 L395,504.1 L397,506.5 L398.9,506.6 L399,508.7 L401,507.5 L403,508.9 L405,510.4 L407,509.2 L409,511.9 L411,510.6 L411.1,513.4 L413,510.5 L415,508.9 L417,508.8 L417.1,511.3 L418.7,574.5 L419,571.0 L421,574.0 L423,576.5 L425,581.4 L427,581.5 L429,584.7 L429.3,585.0 L431,587.2 L433,588.0 L435,593.6 L437,594.3 L438.4,593.0 L439,594.4 L441,597.1 L441.4,595.0 L443,598.5 L445,598.7 L447,604.7 L447.5,606.9 L449,606.4 L451,601.8 L453,598.7 L455,595.9 L456.6,592.4 L457,595.4 L459,591.1 L459.6,591.1 L461,586.8 L463,581.3 L465,577.1 L467,577.1 L468.8,573.1 L469,570.3 L470,570.0 L471,560.3 L473,544.1 L474.6,531.3 L475,532.1 L477,532.2 L479,529.0 L479.1,528.3 L481,526.1 L482.1,523.0 L483,526.5 L483.7,528.3 L485,529.9 L487,528.0 L488.2,530.9 L489,520.7 L489.7,510.5 L491,506.1 L493,505.6 L494.3,506.5 L495,506.0 L497,503.8 L497.3,503.0 L499,504.8 L500.4,507.3 L501,507.4 L501.9,508.1 L503,510.9 L503.4,514.2 L504.9,520.0 L505,519.1 L506.4,517.3 L507,515.8 L509,519.5 L511,519.0 L512.5,514.8 L513,516.9 L515,505.1 L515.5,503.4 L517,497.4 L517.1,498.6 L518.6,496.3 L519,496.1 L521,493.0 L523,492.7 L523.1,491.2 L524.6,490.8 L525,489.9 L527,486.1 L527.7,487.2 L529,487.8 L529.2,487.7 L530.7,485.8 L531,485.6 L532.2,484.9 L533,483.3 L533.8,484.5 L535,485.1 L535.3,485.6 L537,486.7 L538.3,484.0 L539,483.9 L539.8,483.5 L541,444.3 L541.3,432.9 L542.3,404.1 L542.5,399.4 L543,399.5 L545,402.6 L545.9,405.9 L547,405.5 L547.5,407.0 L549,410.3 L550.4,413.7 L551,417.4 L552.5,419.5 L553,421.6 L553.75,426.3 L555,429.8 L556,430.0 L557,430.6 L558,432.2 L559,433.7 L560,435.4 L561,435.4 L562.5,436.8 L562.6,438.2 L563,435.7 L565,440.3 L566,435.7 L567,428.9 L567.1,427.9 L567.5,429.8 L569,433.9 L570.2,439.7 L571,440.7 L571.7,526.1 L572,528.3 L573,529.8 L575,531.2 L576.3,535.7 L577,537.3 L577.8,541.7 L579,538.1 L579.3,536.7 L581,530.9 L582.3,527.1 L583,522.8 L583.8,521.8 L585,516.9 L585.4,517.9 L586.9,515.8 L587,517.2 L589,511.9 L591,512.8 L591.4,509.7 L593,496.9 L594.5,486.3 L595,487.9 L596,486.5 L597,487.9 L597.5,489.4 L599,491.9 L600,450.1 L600.5,428.7 L601,408.0 L602,368.5 L603,370.0 L604.8,368.7 L605,365.7 L607,365.9 L607.5,366.1 L608.1,364.5 L609,366.2 L610,370.8 L611,372.5 L612,375.7 L612.7,377.1 L613,377.4 L614.7,379.4 L615,382.9 L617,368.0 L618.3,361.3 L618.8,359.5 L619,359.7 L620,352.9 L621,345.9 L621.8,348.8 L622.4,350.0 L623,354.3 L623.7,355.8 L625,361.1 L625.5,364.3 L626.3,373.3 L626.4,374.3 L627,381.5 L627.5,388.4 L627.8,387.5 L629,391.6 L630,391.9 L631,427.9 L632.1,467.4 L632.5,468.3 L633,471.8 L635,481.2 L636,485.3 L637,488.1 L637.7,493.1 L639,494.9 L640,494.8 L641,498.0 L642,500.5 L643,502.3 L644,502.4 L645,505.0 L646,507.6 L647,507.6 L647.5,506.4 L648.7,511.3 L649,511.9 L651,513.5 L652.5,514.6 L653,514.6 L655,517.5 L655.3,518.9 L656.4,552.9 L657,552.3 L657.5,556.8 L659,558.2 L661,558.0 L663,560.5 L664.2,560.8 L665,561.9 L667,563.4 L669,565.4 L670,565.9 L671,565.4 L673,563.3 L675,566.6 L677,587.5 L677.5,592.7 L679,593.0 L680,593.2 L681,593.7 L683,592.2 L685,588.7 L687,587.5 L687.5,589.7 L689,586.1 L690,584.3 L691,580.5 L692,579.1 L693,579.3 L695,574.5 L697,576.1 L699,571.6 L700,574.2 L701,574.8 L702.5,573.0 L703,574.5 L705,574.7 L707,575.0 L708,574.8 L709,576.2 L709.5,574.7 L710,575.5 L710.5,574.8 L711,571.8 L713,574.9 L715,576.8 L717,578.8 L717.5,576.5 L719,581.2 L721,583.5 L723,587.6 L725,590.8 L727,587.0 L729,587.4 L731,584.2 L732.5,583.0 L733,585.4 L735,586.5 L737,587.0 L739,588.8 L740,590.8 L741,591.7 L742.5,593.3 L743,593.1 L745,596.0 L746,598.2 L747,592.3 L749,586.7 L751,580.5 L752.5,574.6 L753,575.8 L755,578.5 L757,583.7 L757.5,584.6 L759,586.9 L760,586.9 L761,587.4 L762.5,587.1 L763,588.0 L765,587.8 L767,588.8 L767.5,586.1 L769,586.6 L770,587.9 L771,585.7 L772.5,584.8 L773,584.6 L775,584.8 L777,589.4 L779,596.1 L780,597.3 L781,601.6 L783,598.7 L785,597.6 L787,594.1 L787.5,593.0 L789,587.4 L791,580.1 L792.5,571.9 L793,570.3 L795,559.0 L796,559.9 L797,558.7 L797.5,558.9 L799,555.4 L801,553.7 L803,553.5 L805,555.1 L806,555.5 L807,555.9 L808,554.8 L809,489.8 L810,423.7 L810.5,421.7 L811,418.7 L813,415.3 L815,411.7 L816.6,408.9 L817,408.7 L817.5,409.9 L819,408.4 L820,402.5 L820.7,400.5 L821,397.3 L822.5,392.4 L823,396.4 L824.8,401.7 L825,403.1 L827,408.0 L827.5,408.9 L829,405.0 L830,404.5 L830.3,406.4 L831,407.0 L832.5,400.9 L833,385.4 L834,355.3 L835,329.2 L835.5,339.8 L835.9,326.7 L837,374.4 L837.7,390.3 L838.9,418.7 L839,416.0 L840,415.1 L841,408.3 L842.4,402.4 L843,397.2 L843.6,391.0 L844.8,387.6 L845,387.2 L846,384.2 L847,367.6 L848.3,346.8 L848.75,341.7 L849,338.2 L849.4,333.5 L850.6,318.4 L851,313.5 L851.8,310.1 L852.5,305.9 L853,301.5 L854,296.5 L855,288.6 L855.3,289.1 L857,279.0 L857.7,273.6 L858.75,266.8 L858.8,270.2 L859,271.0 L861,258.9 L862.9,249.7 L863,250.9 L863.5,247.4 L863.75,248.9 L864.8,241.1 L865,238.2 L866,239.1 L866.2,240.7 L867,240.1 L867.7,240.3 L868.75,245.5 L869,247.8 L870.6,256.6 L871,263.2 L872.5,284.7 L873,279.1 L873.1,278.3 L873.75,272.9 L875,261.7 L875.4,257.5 L875.9,259.2 L876,257.9 L877,257.2 L877.3,259.8 L878.75,278.9 L879,283.5 L879.3,285.1 L880,288.1 L881,295.5 L882.2,302.3 L882.5,301.0 L882.8,299.1 L883,299.9 L885,308.7 L885.1,308.5 L886.9,304.8 L887,305.7 L888,305.4 L888.75,307.8 L889,305.5 L889.7,307.3 L891,311.1 L891.8,315.6 L892.5,409.5 L893,413.4 L893.75,420.1 L895,420.6 L897,431.2 L897.5,433.3 L899,438.2 L900,440.4 L901,447.0 L902.5,461.5 L903,467.2 L905,481.3 L906,502.1 L907,519.5 L907.5,529.2 L909,529.9 L910,531.3 L911,529.7 L912.5,533.0 L913,536.5 L915,536.1 L917,543.6 L917.5,546.6 L919,551.2 L920,551.8 L921,542.3 L922.5,533.7 L923,535.7 L925,535.5 L927,537.0 L927.5,539.5 L929,542.2 L930,541.3 L931,543.7 L932.5,548.1 L933,550.3 L935,553.9 L937,559.4 L939,562.7 L940,564.8 L941,562.1 L943,560.2 L945,562.2 L947,560.8 L947.5,560.3 L949,563.8 L951,571.6 L952.5,575.3 L953,572.6 L955,563.0 L957,549.8 L957.5,546.5 L959,545.9 L961,546.9 L963,545.2 L965,545.9 L967,544.9 L969,545.9 L970,544.3 L971,546.2 L972.5,550.3 L973,552.1 L975,550.8 L977,548.5 L977.5,546.2 L979,554.4 L980,556.7 L981,560.9 L982.5,566.7 L983,567.9 L985,574.9 L986,572.5 L987,573.2 L987.5,574.7 L989,576.3 L990,577.8 L991,576.7 L992.5,580.3 L993,580.1 L995,568.8 L997,559.2 L997.5,555.7 L999,552.9 L1000,554.7 L1001,555.4 L1003,557.2 L1004.1,559.9 L1005,560.1 L1006.9,563.5 L1007,564.6 L1009,568.9 L1011,570.6 L1012.5,570.3 L1013,568.8 L1013.8,566.2 L1015,568.7 L1017,566.2 L1017.9,562.0 L1019,559.9 L1019.3,558.8 L1021,552.5 L1022,551.1 L1023,550.0 L1024.8,543.8 L1025,543.9 L1027,563.9 L1027.6,570.1 L1029,558.4 L1030.3,549.3 L1031,544.9 L1033,543.2 L1033.1,546.3 L1035,546.5 L1037,544.1 L1038.6,541.4 L1039,541.9 L1041,540.3 L1043,535.2 L1044.1,533.8 L1045,532.7 L1047,529.4 L1048.3,531.2 L1049,529.1 L1049.7,529.0 L1051,531.5 L1052.4,537.9 L1053,536.4 L1055,543.3 L1055.2,542.3 L1057,542.5 L1057.9,548.6 L1059,548.1 L1060.7,551.5 L1061,552.0 L1063,552.6 L1063.4,548.7 L1064.8,546.7 L1065,546.1 L1066.2,548.3 L1067,549.7 L1069,545.9 L1071,543.0 L1071.7,542.3 L1073,543.2 L1074.5,541.4 L1075,528.3 L1075.9,505.8 L1077,480.0 L1077.2,474.4 L1078.6,478.2 L1079,478.3 L1081,476.6 L1082.8,477.1 L1083,476.8 L1085,480.0 L1085.5,479.0 L1087,483.0 L1088.3,489.0 L1089,486.4 L1091,486.7 L1093,488.9 L1093.8,488.0 L1095,490.9 L1095.2,488.0 L1096.6,491.2 L1097,488.6 L1097.9,492.4 L1099,493.5 L1099.3,490.9 L1101,492.0 L1102,492.8 L1103,494.4 L1103.4,493.6 L1104.8,495.5 L1105,506.5 L1106.2,559.0 L1107,556.6 L1107.6,549.8 L1109,543.9 L1110.3,542.4 L1111,539.0 L1113,537.4 L1113.1,534.8 L1115,533.2 L1115.9,529.6 L1117,519.1 L1118.6,499.6 L1119,497.3 L1121,493.7 L1121.4,495.1 L1123,492.2 L1125,486.3 L1125.5,485.7 L1126.9,486.3 L1127,485.0 L1129,480.3 L1131,473.7 L1132.4,471.3 L1133,473.2 L1135,474.9 L1135.2,475.1 L1137,474.9 L1137.9,476.0 L1139,479.7 L1141,485.3 L1142,485.9 L1143,486.3 L1143.4,487.8 L1144.8,490.5 L1145,492.2 L1145.4,492.8 L1147,489.8 L1149,489.8 L1150.7,483.2 L1151,481.5 L1151.7,478.3 L1153,469.4 L1155,469.2 L1156,468.0 L1157,466.7 L1158.6,463.3 L1159,461.9 L1160,457.3 L1161,455.5 L1161.2,453.3 L1162.8,446.4 L1163,444.0 L1163.8,436.8 L1165,429.9 L1165.5,428.9 L1167,422.1 L1169,417.2 L1169.7,415.0 L1171,407.7 L1171.7,404.4 L1173,399.9 L1173.8,394.4 L1175,385.5 L1177,376.3 L1177.9,382.6 L1179,387.5 L1180.7,393.5 L1181,396.0 L1182.2,401.4 L1183,395.6 L1183.4,388.9 L1185,377.8 L1186.2,376.5 L1187,373.5 L1187.4,369.8 L1189,364.9 L1189.8,362.9 L1190,359.1 L1190,670 L93,670 Z" fill="#dd8fb8"/>
<path d="M93,609.5 L95,608.1 L97,609.4 L99,607.3 L100.4,608.3 L101,608.2 L103,607.1 L105,608.8 L107,607.7 L107.3,608.8 L109,608.0 L111,608.4 L112.1,610.2 L113,613.0 L114.9,611.8 L115,611.9 L117,625.2 L117.5,625.8 L117.7,624.5 L118.5,621.0 L119,621.5 L119.7,616.2 L121,618.0 L123,616.0 L123.9,614.5 L125,613.5 L125.2,613.9 L125.5,616.5 L127,615.1 L129,616.5 L130,617.4 L130.8,616.7 L131,617.1 L133,615.7 L134.9,615.4 L135,615.7 L136.3,618.2 L137,616.7 L137.7,614.7 L138,615.1 L139,612.9 L139.7,610.7 L141,597.2 L141.1,596.5 L142,589.4 L143,580.1 L145,560.1 L145.5,557.9 L147,546.3 L148.8,530.5 L149,531.1 L150.5,516.7 L151,515.4 L152.1,513.8 L152.9,509.5 L153,509.8 L153.7,506.1 L155,504.4 L156.2,502.3 L157,499.8 L157.9,498.5 L159,493.4 L159.5,492.8 L161,488.5 L162.8,483.3 L163,482.1 L163.7,480.8 L165,476.9 L166.2,470.7 L166.75,468.7 L167,467.0 L167.5,470.6 L167.8,472.2 L168,474.7 L169,478.5 L169.5,478.0 L170,479.3 L171,485.2 L171.1,483.3 L172.8,492.6 L173,492.7 L174.4,499.0 L175,501.4 L176.1,520.6 L177,532.3 L177.5,539.6 L177.7,543.1 L178.7,560.2 L179,558.5 L181,563.8 L181.2,565.0 L183,571.1 L184.9,576.1 L185,576.6 L187,575.6 L189,576.4 L189.9,576.6 L191,579.4 L192.4,581.6 L193,581.1 L194.8,587.4 L195,587.3 L197,588.6 L197.3,589.9 L199,592.1 L199.8,591.6 L201,589.8 L203,590.6 L204.8,590.6 L205,591.6 L207,593.4 L207.3,593.2 L209,591.6 L211,590.9 L212.2,590.7 L213,587.8 L213.5,590.1 L215,576.6 L216,567.8 L217,569.5 L219,571.0 L219.7,571.4 L221,571.1 L222.2,573.9 L223,572.9 L224.7,573.8 L225,574.4 L227,576.3 L227.1,577.1 L229,577.1 L229.6,576.8 L231,577.9 L232.1,578.4 L233,580.0 L234.6,579.8 L235,583.4 L237,585.4 L238.3,584.6 L239,584.8 L241,586.7 L242,587.8 L243,602.9 L243.3,610.5 L244.5,617.4 L245,612.9 L245.8,607.4 L247,598.0 L249,584.9 L251,573.3 L252,567.1 L253,568.6 L255,564.8 L257,561.4 L259,562.9 L259.4,562.2 L261,559.8 L263,560.1 L265,557.6 L266.9,558.3 L267,560.8 L269,560.3 L269.4,559.6 L271,556.6 L273,554.9 L273.1,553.7 L274.3,487.4 L275,488.0 L277,491.1 L279,491.6 L279.3,490.7 L281,500.8 L283,512.0 L285,502.3 L287,492.2 L288,487.2 L289,487.7 L291,486.9 L293,488.6 L294.2,489.0 L295,487.5 L297,487.2 L299,488.5 L301,489.3 L302.9,491.9 L303,497.2 L304.2,534.9 L305,543.8 L307,563.0 L309,581.5 L309.1,579.9 L311,586.7 L311.6,588.6 L313,594.4 L314.1,599.2 L315,603.8 L316.6,611.0 L317,612.9 L319,618.1 L320,621.5 L321,619.2 L323,610.4 L325,605.6 L326.1,603.9 L327,601.4 L327.6,599.6 L329,594.1 L329.1,592.0 L331,590.0 L332.1,586.6 L333,586.4 L335,583.8 L335.2,581.5 L336.7,577.7 L337,579.1 L338.2,576.7 L339,573.4 L341,570.1 L342.8,567.8 L343,570.7 L344.3,570.4 L345,567.2 L347,567.1 L347.3,568.3 L348.8,566.1 L349,564.2 L351,562.3 L353,558.5 L353.4,556.8 L355,565.7 L356.4,570.5 L357,572.1 L358,577.0 L359,573.5 L361,570.7 L362.5,568.0 L363,565.8 L365,566.0 L365.5,566.1 L367,566.6 L368.6,569.0 L369,568.4 L370.1,569.4 L371,569.4 L371.6,573.1 L373,573.7 L375,576.1 L376.2,578.1 L377,581.9 L379,585.9 L380.7,592.1 L381,591.5 L383,595.1 L383.8,596.5 L385,596.5 L385.3,598.0 L386.8,596.6 L387,595.4 L388,597.9 L388.3,588.6 L389,570.8 L389.8,551.1 L391,551.4 L393,551.1 L394.4,551.9 L395,552.4 L397,554.3 L398.9,552.5 L399,553.3 L401,550.8 L403,549.0 L405,549.6 L407,547.8 L409,546.5 L411,545.9 L411.1,546.9 L413,544.4 L415,543.4 L417,541.9 L417.1,541.6 L418.7,606.2 L419,605.5 L421,606.1 L423,606.4 L425,608.9 L427,609.3 L429,610.6 L429.3,611.2 L431,610.2 L433,612.3 L435,616.0 L437,618.4 L438.4,616.8 L439,616.1 L441,619.3 L441.4,618.5 L443,620.5 L445,622.2 L447,626.9 L447.5,629.0 L449,628.9 L451,624.5 L453,624.1 L455,622.8 L456.6,619.3 L457,621.0 L459,619.4 L459.6,615.8 L461,615.8 L463,611.2 L465,607.9 L467,607.0 L468.8,604.6 L469,601.7 L470,601.6 L471,594.7 L473,579.6 L474.6,567.1 L475,566.9 L477,567.1 L479,563.2 L479.1,564.5 L481,563.0 L482.1,560.3 L483,560.4 L483.7,561.6 L485,561.2 L487,558.3 L488.2,560.9 L489,548.5 L489.7,538.3 L491,534.4 L493,532.8 L494.3,530.9 L495,533.3 L497,531.4 L497.3,530.2 L499,528.8 L500.4,529.5 L501,529.4 L501.9,526.1 L503,532.4 L503.4,538.0 L504.9,548.3 L505,548.8 L506.4,546.8 L507,545.8 L509,548.8 L511,549.4 L512.5,548.4 L513,549.5 L515,541.5 L515.5,540.2 L517,552.1 L517.1,555.2 L518.6,567.4 L519,568.3 L521,560.5 L523,552.6 L523.1,552.8 L524.6,549.4 L525,546.5 L527,541.0 L527.7,540.7 L529,537.4 L529.2,536.0 L530.7,539.8 L531,540.0 L532.2,543.6 L533,546.3 L533.8,548.7 L535,550.4 L535.3,549.1 L537,548.9 L538.3,547.1 L539,547.0 L539.8,545.4 L541,545.3 L541.3,544.3 L542.3,459.1 L542.5,459.7 L543,458.7 L545,461.0 L545.9,464.1 L547,463.0 L547.5,465.6 L549,466.8 L550.4,468.6 L551,471.8 L552.5,474.7 L553,476.0 L553.75,478.8 L555,484.0 L556,484.7 L557,488.7 L558,491.5 L559,491.8 L560,491.3 L561,491.2 L562.5,490.6 L562.6,490.3 L563,488.7 L565,486.1 L566,482.5 L567,478.9 L567.1,478.0 L567.5,482.1 L569,488.0 L570.2,491.3 L571,536.5 L571.7,576.6 L572,576.9 L573,579.1 L575,581.3 L576.3,584.1 L577,584.8 L577.8,589.0 L579,592.2 L579.3,591.4 L581,585.3 L582.3,584.4 L583,580.8 L583.8,578.1 L585,573.3 L585.4,573.2 L586.9,571.7 L587,572.0 L589,567.9 L591,565.7 L591.4,563.2 L593,559.3 L594.5,554.8 L595,554.5 L596,550.8 L597,550.0 L597.5,550.9 L599,550.8 L600,488.0 L600.5,456.2 L601,456.4 L602,454.6 L603,452.9 L604.8,450.2 L605,448.0 L607,443.0 L607.5,444.4 L608.1,440.6 L609,444.3 L610,447.2 L611,447.3 L612,452.3 L612.7,455.5 L613,455.0 L614.7,455.6 L615,456.1 L617,453.8 L618.3,454.6 L618.8,454.8 L619,456.0 L620,455.1 L621,453.9 L621.8,451.8 L622.4,456.4 L623,459.5 L623.7,463.6 L625,469.4 L625.5,470.6 L626.3,475.1 L626.4,476.0 L627,475.7 L627.5,479.0 L627.8,479.3 L629,480.6 L630,481.6 L631,509.6 L632.1,539.4 L632.5,548.0 L633,552.3 L635,560.5 L636,563.4 L637,566.9 L637.7,570.0 L639,572.3 L640,577.9 L641,577.2 L642,576.5 L643,577.4 L644,580.2 L645,579.6 L646,582.0 L647,584.5 L647.5,583.5 L648.7,578.8 L649,577.9 L651,572.8 L652.5,569.0 L653,570.7 L655,578.7 L655.3,577.4 L656.4,580.9 L657,583.4 L657.5,587.6 L659,587.0 L661,588.1 L663,586.4 L664.2,585.9 L665,586.7 L667,589.1 L669,590.5 L670,591.1 L671,589.1 L673,588.4 L675,587.3 L677,611.3 L677.5,615.7 L679,619.7 L680,618.8 L681,622.2 L683,624.9 L685,623.1 L687,617.8 L687.5,618.1 L689,615.4 L690,610.9 L691,608.7 L692,607.1 L693,609.2 L695,605.8 L697,605.1 L699,602.1 L700,602.4 L701,605.2 L702.5,603.3 L703,605.4 L705,605.8 L707,608.1 L708,608.4 L709,606.7 L709.5,608.8 L710,608.1 L710.5,605.5 L711,604.0 L713,604.7 L715,604.3 L717,603.0 L717.5,601.9 L719,605.0 L721,608.7 L723,614.7 L725,615.7 L727,616.4 L729,616.5 L731,612.6 L732.5,614.0 L733,614.4 L735,616.6 L737,615.7 L739,616.4 L740,616.8 L741,620.6 L742.5,621.9 L743,621.2 L745,623.4 L746,623.9 L747,620.6 L749,616.4 L751,615.6 L752.5,611.6 L753,614.3 L755,613.3 L757,613.5 L757.5,614.5 L759,614.2 L760,615.0 L761,618.2 L762.5,619.8 L763,619.9 L765,619.2 L767,620.1 L767.5,620.6 L769,619.1 L770,619.2 L771,616.3 L772.5,618.0 L773,618.0 L775,621.1 L777,623.1 L779,623.6 L780,622.8 L781,625.2 L783,621.8 L785,621.0 L787,619.3 L787.5,618.7 L789,617.5 L791,615.3 L792.5,610.0 L793,607.8 L795,595.1 L796,590.0 L797,589.3 L797.5,587.9 L799,586.9 L801,586.3 L803,588.8 L805,587.8 L806,585.6 L807,587.1 L808,587.8 L809,531.7 L810,475.3 L810.5,447.4 L811,446.2 L813,445.2 L815,442.6 L816.6,441.5 L817,439.4 L817.5,438.0 L819,431.5 L820,426.0 L820.7,420.7 L821,421.4 L822.5,428.2 L823,429.9 L824.8,437.3 L825,435.6 L827,432.9 L827.5,435.4 L829,430.8 L830,430.0 L830.3,430.3 L831,430.6 L832.5,426.0 L833,424.4 L834,422.3 L835,370.7 L835.5,345.1 L835.9,326.7 L837,393.9 L837.7,436.7 L838.9,435.2 L839,433.8 L840,437.8 L841,435.9 L842.4,429.6 L843,427.4 L843.6,422.6 L844.8,418.7 L845,420.1 L846,415.2 L847,410.0 L848.3,403.4 L848.75,398.0 L849,394.7 L849.4,391.8 L850.6,376.8 L851,372.7 L851.8,363.5 L852.5,358.6 L853,354.9 L854,348.5 L855,340.6 L855.3,338.5 L857,340.8 L857.7,344.9 L858.75,346.3 L858.8,348.8 L859,346.4 L861,321.8 L862.9,298.5 L863,297.3 L863.5,293.2 L863.75,296.8 L864.8,306.0 L865,307.0 L866,319.2 L866.2,322.3 L867,319.5 L867.7,316.4 L868.75,314.5 L869,311.8 L870.6,324.0 L871,327.9 L872.5,341.6 L873,345.1 L873.1,346.8 L873.75,339.7 L875,326.9 L875.4,322.7 L875.9,321.1 L876,322.6 L877,335.1 L877.3,337.3 L878.75,359.0 L879,363.8 L879.3,367.5 L880,376.4 L881,369.0 L882.2,360.1 L882.5,355.1 L882.8,350.6 L883,351.9 L885,360.5 L885.1,362.4 L886.9,368.1 L887,369.9 L888,368.5 L888.75,366.3 L889,364.2 L889.7,365.4 L891,364.9 L891.8,422.4 L892.5,469.4 L893,474.5 L893.75,485.5 L895,487.3 L897,494.5 L897.5,494.7 L899,496.6 L900,498.3 L901,504.9 L902.5,515.2 L903,520.1 L905,529.4 L906,538.3 L907,546.4 L907.5,553.9 L909,566.5 L910,575.1 L911,575.0 L912.5,576.9 L913,579.9 L915,582.1 L917,585.0 L917.5,586.8 L919,589.3 L920,588.2 L921,576.4 L922.5,563.9 L923,565.2 L925,566.2 L927,571.6 L927.5,572.0 L929,573.2 L930,573.9 L931,574.1 L932.5,574.4 L933,575.7 L935,578.3 L937,584.2 L939,584.9 L940,589.0 L941,586.2 L943,584.6 L945,585.2 L947,584.7 L947.5,583.0 L949,589.3 L951,601.6 L952.5,592.2 L953,591.4 L955,576.8 L957,575.1 L957.5,577.0 L959,573.0 L961,571.9 L963,572.4 L965,571.6 L967,570.7 L969,571.4 L970,571.9 L971,576.4 L972.5,576.6 L973,577.9 L975,578.3 L977,575.5 L977.5,574.1 L979,578.9 L980,580.0 L981,579.8 L982.5,583.2 L983,585.2 L985,597.4 L986,602.3 L987,605.3 L987.5,607.4 L989,607.5 L990,609.1 L991,606.0 L992.5,605.9 L993,603.9 L995,595.4 L997,585.5 L997.5,580.7 L999,580.0 L1000,580.7 L1001,581.5 L1003,584.7 L1004.1,582.9 L1005,585.1 L1006.9,588.4 L1007,589.1 L1009,592.1 L1011,594.4 L1012.5,595.1 L1013,595.2 L1013.8,596.2 L1015,596.2 L1017,590.9 L1017.9,589.1 L1019,589.7 L1019.3,588.0 L1021,583.2 L1022,580.4 L1023,580.4 L1024.8,576.6 L1025,581.2 L1027,599.8 L1027.6,606.0 L1029,593.2 L1030.3,581.8 L1031,580.4 L1033,580.5 L1033.1,582.0 L1035,580.2 L1037,577.8 L1038.6,577.0 L1039,577.6 L1041,576.3 L1043,575.0 L1044.1,574.6 L1045,572.8 L1047,567.2 L1048.3,567.3 L1049,564.7 L1049.7,564.2 L1051,566.2 L1052.4,570.4 L1053,569.8 L1055,573.3 L1055.2,573.4 L1057,578.3 L1057.9,584.0 L1059,583.7 L1060.7,582.0 L1061,581.7 L1063,583.6 L1063.4,582.5 L1064.8,580.4 L1065,582.1 L1066.2,581.8 L1067,583.6 L1069,581.1 L1071,581.9 L1071.7,583.7 L1073,585.0 L1074.5,586.1 L1075,571.4 L1075.9,550.7 L1077,525.0 L1077.2,520.4 L1078.6,524.5 L1079,524.5 L1081,526.9 L1082.8,526.0 L1083,527.5 L1085,528.3 L1085.5,527.4 L1087,530.6 L1088.3,533.4 L1089,530.1 L1091,530.2 L1093,530.1 L1093.8,528.2 L1095,527.8 L1095.2,526.7 L1096.6,526.1 L1097,525.9 L1097.9,526.8 L1099,526.8 L1099.3,525.0 L1101,522.1 L1102,522.0 L1103,523.0 L1103.4,521.4 L1104.8,559.9 L1105,560.8 L1106.2,571.5 L1107,577.0 L1107.6,579.0 L1109,574.6 L1110.3,572.3 L1111,571.7 L1113,567.5 L1113.1,565.3 L1115,557.1 L1115.9,555.5 L1117,550.8 L1118.6,543.6 L1119,540.7 L1121,529.6 L1121.4,525.3 L1123,520.9 L1125,514.2 L1125.5,512.6 L1126.9,510.3 L1127,511.6 L1129,506.5 L1131,501.8 L1132.4,501.2 L1133,500.2 L1135,500.6 L1135.2,504.0 L1137,505.1 L1137.9,507.4 L1139,507.3 L1141,511.0 L1142,510.9 L1143,510.1 L1143.4,509.0 L1144.8,518.1 L1145,520.4 L1145.4,524.2 L1147,510.3 L1149,497.5 L1150.7,485.1 L1151,486.0 L1151.7,485.9 L1153,488.4 L1155,493.4 L1156,497.6 L1157,494.7 L1158.6,494.9 L1159,496.4 L1160,497.6 L1161,488.2 L1161.2,485.3 L1162.8,477.7 L1163,477.8 L1163.8,471.0 L1165,466.8 L1165.5,468.9 L1167,465.7 L1169,464.8 L1169.7,463.4 L1171,462.4 L1171.7,458.8 L1173,455.2 L1173.8,450.3 L1175,445.6 L1177,439.6 L1177.9,447.6 L1179,454.0 L1180.7,466.8 L1181,469.6 L1182.2,480.0 L1183,472.4 L1183.4,467.5 L1185,452.9 L1186.2,444.1 L1187,438.5 L1187.4,431.9 L1189,430.9 L1189.8,431.2 L1190,428.4 L1190,670 L93,670 Z" fill="#a196e6"/>
<g fill="none" stroke-width="2.2" stroke-linejoin="round">
<path d="M93,575.5 L95,573.3 L97,571.9 L99,570.6 L100.4,570.4 L101,573.6 L103,573.0 L105,573.1 L107,576.1 L107.3,576.7 L109,573.7 L111,574.6 L112.1,575.0 L113,579.3 L114.9,580.1 L115,578.3 L117,581.9 L117.5,583.2 L117.7,576.2 L118.5,558.2 L119,558.8 L119.7,558.2 L121,557.0 L123,556.3 L123.9,556.2 L125,553.9 L125.2,556.9 L125.5,559.3 L127,555.5 L129,553.3 L130,554.7 L130.8,554.9 L131,554.6 L133,554.4 L134.9,543.9 L135,543.9 L136.3,540.5 L137,535.4 L137.7,533.7 L138,534.2 L139,526.0 L139.7,520.1 L141,508.0 L141.1,508.9 L142,495.5 L143,464.4 L145,448.0 L145.5,441.6 L147,425.0 L148.8,379.4 L149,374.5 L150.5,358.9 L151,356.7 L152.1,345.2 L152.9,334.9 L153,336.2 L153.7,335.5 L155,334.3 L156.2,332.7 L157,331.7 L157.9,330.0 L159,328.3 L159.5,326.4 L161,325.0 L162.8,323.7 L163,325.0 L163.7,325.8 L165,325.2 L166.2,324.3 L166.75,329.6 L167,330.5 L167.5,331.6 L167.8,334.6 L168,339.0 L169,350.3 L169.5,352.5 L170,359.3 L171,373.6 L171.1,373.4 L172.8,385.6 L173,383.8 L174.4,385.8 L175,394.3 L176.1,406.6 L177,422.9 L177.5,431.4 L177.7,436.5 L178.7,478.6 L179,490.7 L181,511.2 L181.2,512.2 L183,520.5 L184.9,529.6 L185,526.8 L187,519.5 L189,511.7 L189.9,509.8 L191,514.8 L192.4,515.2 L193,514.0 L194.8,513.7 L195,512.9 L197,513.6 L197.3,511.9 L199,511.9 L199.8,512.0 L201,507.5 L203,509.5 L204.8,506.9 L205,506.4 L207,507.2 L207.3,505.2 L209,508.0 L211,511.7 L212.2,513.6 L213,503.7 L213.5,500.3 L215,486.1 L216,475.5 L217,480.9 L219,493.6 L219.7,497.4 L221,500.5 L222.2,509.0 L223,511.0 L224.7,519.3 L225,518.1 L227,525.2 L227.1,523.4 L229,526.4 L229.6,529.4 L231,530.5 L232.1,530.8 L233,533.6 L234.6,536.5 L235,539.6 L237,542.1 L238.3,542.1 L239,545.8 L241,546.2 L242,542.4 L243,556.8 L243.3,559.8 L244.5,563.5 L245,562.6 L245.8,563.3 L247,555.2 L249,543.7 L251,531.3 L252,526.0 L253,529.1 L255,523.9 L257,521.5 L259,521.5 L259.4,522.6 L261,516.4 L263,515.5 L265,509.9 L266.9,509.0 L267,510.2 L269,506.2 L269.4,508.8 L271,511.1 L273,512.0 L273.1,511.1 L274.3,441.7 L275,442.7 L277,442.5 L279,443.9 L279.3,443.2 L281,450.7 L283,458.2 L285,450.1 L287,440.6 L288,435.7 L289,437.0 L291,441.9 L293,448.7 L294.2,449.7 L295,447.2 L297,446.8 L299,448.7 L301,450.2 L302.9,451.6 L303,460.1 L304.2,534.9 L305,543.8 L307,555.8 L309,566.3 L309.1,564.7 L311,569.1 L311.6,566.8 L313,570.7 L314.1,576.7 L315,576.1 L316.6,578.6 L317,582.4 L319,580.9 L320,581.9 L321,579.9 L323,572.5 L325,566.1 L326.1,562.6 L327,559.8 L327.6,555.3 L329,548.0 L329.1,547.1 L331,540.1 L332.1,532.6 L333,531.8 L335,527.2 L335.2,524.7 L336.7,519.1 L337,519.7 L338.2,517.8 L339,518.7 L341,516.2 L342.8,513.8 L343,515.5 L344.3,517.4 L345,516.6 L347,516.6 L347.3,519.6 L348.8,518.2 L349,517.2 L351,512.4 L353,502.9 L353.4,500.0 L355,497.9 L356.4,493.7 L357,494.3 L358,497.0 L359,502.8 L361,509.8 L362.5,503.9 L363,504.4 L365,500.6 L365.5,498.1 L367,494.1 L368.6,491.5 L369,490.9 L370.1,490.8 L371,489.4 L371.6,489.9 L373,490.2 L375,491.2 L376.2,490.1 L377,493.9 L379,496.1 L380.7,496.8 L381,501.1 L383,515.6 L383.8,520.5 L385,525.9 L385.3,523.0 L386.8,528.7 L387,525.6 L388,508.7 L388.3,500.7 L389,484.2 L389.8,471.3 L391,475.7 L393,481.0 L394.4,488.1 L395,488.6 L397,494.7 L398.9,495.7 L399,497.1 L401,495.4 L403,496.6 L405,501.4 L407,498.2 L409,497.9 L411,494.2 L411.1,496.5 L413,497.3 L415,495.8 L417,498.9 L417.1,496.8 L418.7,558.8 L419,559.1 L421,560.3 L423,564.7 L425,567.0 L427,566.5 L429,568.3 L429.3,566.8 L431,571.1 L433,573.9 L435,577.5 L437,579.0 L438.4,577.1 L439,575.9 L441,579.7 L441.4,579.7 L443,583.7 L445,583.9 L447,588.6 L447.5,589.2 L449,590.1 L451,588.3 L453,583.8 L455,579.6 L456.6,576.5 L457,576.5 L459,570.1 L459.6,569.9 L461,567.0 L463,560.3 L465,555.6 L467,550.2 L468.8,546.2 L469,545.4 L470,548.3 L471,537.8 L473,519.4 L474.6,502.3 L475,504.0 L477,498.6 L479,493.4 L479.1,491.4 L481,489.5 L482.1,490.7 L483,489.0 L483.7,491.3 L485,491.1 L487,494.1 L488.2,496.6 L489,483.0 L489.7,467.8 L491,467.4 L493,471.7 L494.3,473.6 L495,471.9 L497,466.0 L497.3,464.5 L499,464.0 L500.4,461.2 L501,469.8 L501.9,476.0 L503,484.9 L503.4,491.4 L504.9,499.6 L505,500.9 L506.4,508.2 L507,504.9 L509,502.8 L511,501.8 L512.5,497.4 L513,492.5 L515,473.9 L515.5,472.7 L517,475.5 L517.1,480.1 L518.6,481.0 L519,482.5 L521,481.3 L523,479.9 L523.1,479.9 L524.6,478.6 L525,478.9 L527,464.1 L527.7,463.8 L529,462.1 L529.2,462.0 L530.7,460.8 L531,460.3 L532.2,456.9 L533,453.0 L533.8,447.3 L535,439.6 L535.3,438.7 L537,442.9 L538.3,447.6 L539,446.4 L539.8,444.9 L541,442.5 L541.3,432.9 L542.3,371.5 L542.5,356.0 L543,357.6 L545,363.9 L545.9,365.9 L547,366.1 L547.5,364.8 L549,368.2 L550.4,371.8 L551,374.4 L552.5,377.1 L553,370.6 L553.75,366.6 L555,358.7 L556,349.3 L557,351.9 L558,351.1 L559,352.0 L560,355.1 L561,343.6 L562.5,325.1 L562.6,324.9 L563,323.9 L565,331.6 L566,335.6 L567,332.7 L567.1,331.5 L567.5,332.1 L569,323.2 L570.2,331.6 L571,336.7 L571.7,392.3 L572,418.1 L573,419.3 L575,420.0 L576.3,422.4 L577,422.9 L577.8,428.5 L579,433.8 L579.3,433.6 L581,437.1 L582.3,441.5 L583,438.8 L583.8,437.7 L585,432.5 L585.4,433.7 L586.9,428.8 L587,431.7 L589,440.1 L591,451.0 L591.4,453.1 L593,456.8 L594.5,462.1 L595,456.4 L596,446.8 L597,441.8 L597.5,436.8 L599,412.2 L600,398.7 L600.5,376.0 L601,351.1 L602,305.0 L603,302.8 L604.8,288.7 L605,284.2 L607,270.7 L607.5,266.2 L608.1,265.0 L609,260.2 L610,260.6 L611,268.8 L612,275.1 L612.7,273.2 L613,271.5 L614.7,264.9 L615,266.8 L617,263.4 L618.3,217.6 L618.8,209.2 L619,205.8 L620,182.5 L621,181.3 L621.8,179.1 L622.4,178.4 L623,182.6 L623.7,186.2 L625,215.6 L625.5,228.7 L626.3,239.6 L626.4,241.1 L627,218.7 L627.5,198.6 L627.8,188.4 L629,209.6 L630,250.1 L631,287.5 L632.1,315.7 L632.5,325.6 L633,330.4 L635,337.6 L636,344.7 L637,349.5 L637.7,355.0 L639,366.1 L640,375.0 L641,376.3 L642,380.4 L643,383.4 L644,388.2 L645,408.2 L646,428.4 L647,435.0 L647.5,439.7 L648.7,449.2 L649,455.1 L651,459.8 L652.5,463.7 L653,469.1 L655,487.3 L655.3,492.5 L656.4,502.7 L657,508.4 L657.5,515.4 L659,516.9 L661,516.1 L663,519.3 L664.2,520.5 L665,523.3 L667,523.8 L669,523.1 L670,519.1 L671,519.9 L673,523.3 L675,527.8 L677,520.8 L677.5,519.1 L679,498.8 L680,488.1 L681,488.8 L683,486.0 L685,481.3 L687,481.1 L687.5,481.4 L689,474.0 L690,471.1 L691,465.7 L692,465.4 L693,462.5 L695,454.4 L697,458.4 L699,458.8 L700,459.7 L701,457.5 L702.5,455.6 L703,455.6 L705,452.6 L707,452.3 L708,449.9 L709,469.6 L709.5,476.1 L710,492.4 L710.5,503.8 L711,501.6 L713,496.2 L715,494.2 L717,491.0 L717.5,486.7 L719,495.2 L721,500.0 L723,504.0 L725,508.5 L727,503.0 L729,500.6 L731,496.4 L732.5,498.8 L733,502.4 L735,507.7 L737,515.4 L739,522.1 L740,525.3 L741,520.7 L742.5,508.9 L743,509.5 L745,518.9 L746,524.8 L747,522.2 L749,513.6 L751,506.3 L752.5,502.6 L753,504.5 L755,505.1 L757,508.4 L757.5,508.6 L759,517.2 L760,522.5 L761,528.0 L762.5,529.3 L763,530.3 L765,533.9 L767,536.0 L767.5,537.2 L769,540.2 L770,543.1 L771,544.4 L772.5,543.2 L773,542.7 L775,547.9 L777,553.2 L779,562.3 L780,563.4 L781,568.2 L783,566.5 L785,562.9 L787,559.5 L787.5,556.4 L789,553.2 L791,549.6 L792.5,542.8 L793,540.0 L795,532.1 L796,529.7 L797,526.9 L797.5,524.7 L799,524.1 L801,528.5 L803,528.3 L805,530.4 L806,528.3 L807,498.8 L808,466.1 L809,434.4 L810,400.8 L810.5,399.6 L811,398.7 L813,388.5 L815,379.5 L816.6,374.5 L817,372.4 L817.5,371.7 L819,367.9 L820,366.2 L820.7,367.7 L821,365.7 L822.5,371.0 L823,375.5 L824.8,378.6 L825,377.8 L827,373.7 L827.5,372.5 L829,372.6 L830,368.7 L830.3,368.2 L831,367.0 L832.5,356.1 L833,351.2 L834,346.3 L835,291.1 L835.5,262.2 L835.9,278.8 L837,327.2 L837.7,355.4 L838.9,366.0 L839,364.5 L840,374.7 L841,365.6 L842.4,352.1 L843,343.7 L843.6,337.4 L844.8,326.0 L845,321.6 L846,314.1 L847,307.6 L848.3,303.4 L848.75,282.4 L849,275.4 L849.4,270.2 L850.6,249.8 L851,241.8 L851.8,230.8 L852.5,219.1 L853,213.1 L854,199.9 L855,187.6 L855.3,189.6 L857,188.2 L857.7,187.6 L858.75,187.8 L858.8,187.2 L859,189.4 L861,176.6 L862.9,132.2 L863,133.6 L863.5,121.5 L863.75,116.2 L864.8,138.0 L865,139.5 L866,162.5 L866.2,160.6 L867,154.8 L867.7,145.6 L868.75,134.4 L869,136.9 L870.6,145.5 L871,148.7 L872.5,169.2 L873,174.0 L873.1,176.7 L873.75,184.1 L875,168.6 L875.4,162.8 L875.9,159.0 L876,156.8 L877,159.5 L877.3,161.6 L878.75,168.5 L879,171.6 L879.3,172.2 L880,180.2 L881,190.5 L882.2,190.4 L882.5,186.7 L882.8,189.4 L883,195.1 L885,224.4 L885.1,222.6 L886.9,207.1 L887,207.4 L888,199.7 L888.75,194.2 L889,195.5 L889.7,196.4 L891,204.1 L891.8,237.4 L892.5,262.7 L893,281.8 L893.75,313.1 L895,321.5 L897,335.8 L897.5,337.2 L899,344.5 L900,348.2 L901,354.0 L902.5,362.4 L903,372.0 L905,405.6 L906,422.8 L907,429.7 L907.5,432.5 L909,444.8 L910,453.6 L911,457.0 L912.5,466.4 L913,471.1 L915,479.5 L917,491.7 L917.5,494.8 L919,497.8 L920,500.5 L921,484.6 L922.5,463.0 L923,464.1 L925,466.4 L927,466.8 L927.5,467.0 L929,472.9 L930,473.3 L931,479.8 L932.5,484.8 L933,488.0 L935,495.8 L937,504.5 L939,511.7 L940,515.2 L941,514.7 L943,508.0 L945,501.7 L947,507.7 L947.5,510.2 L949,513.4 L951,521.4 L952.5,524.5 L953,522.9 L955,514.0 L957,506.9 L957.5,504.5 L959,502.2 L961,502.7 L963,504.1 L965,501.1 L967,501.7 L969,504.9 L970,504.1 L971,504.0 L972.5,507.8 L973,509.4 L975,511.4 L977,512.6 L977.5,513.7 L979,513.9 L980,509.0 L981,512.7 L982.5,519.6 L983,519.9 L985,527.4 L986,528.5 L987,530.7 L987.5,530.6 L989,529.3 L990,532.5 L991,529.3 L992.5,524.4 L993,522.9 L995,514.6 L997,509.3 L997.5,508.7 L999,505.6 L1000,505.4 L1001,500.3 L1003,495.2 L1004.1,490.7 L1005,496.6 L1006.9,509.6 L1007,508.7 L1009,506.7 L1011,498.3 L1012.5,491.5 L1013,488.1 L1013.8,485.1 L1015,484.3 L1017,478.1 L1017.9,471.3 L1019,470.1 L1019.3,466.7 L1021,458.1 L1022,455.8 L1023,450.0 L1024.8,438.1 L1025,438.1 L1027,446.3 L1027.6,450.4 L1029,448.8 L1030.3,449.1 L1031,450.4 L1033,452.7 L1033.1,454.4 L1035,460.3 L1037,461.0 L1038.6,464.0 L1039,466.7 L1041,472.5 L1043,475.2 L1044.1,479.2 L1045,477.4 L1047,475.2 L1048.3,473.5 L1049,476.5 L1049.7,480.9 L1051,486.7 L1052.4,495.3 L1053,492.4 L1055,493.6 L1055.2,491.7 L1057,493.6 L1057.9,493.6 L1059,492.6 L1060.7,491.0 L1061,492.8 L1063,495.2 L1063.4,493.4 L1064.8,459.1 L1065,458.8 L1066.2,456.0 L1067,453.3 L1069,441.0 L1071,433.5 L1071.7,432.9 L1073,427.6 L1074.5,420.0 L1075,415.6 L1075.9,412.9 L1077,391.6 L1077.2,386.9 L1078.6,363.9 L1079,361.9 L1081,358.2 L1082.8,356.3 L1083,356.4 L1085,351.1 L1085.5,349.2 L1087,354.6 L1088.3,358.3 L1089,355.9 L1091,351.4 L1093,365.7 L1093.8,369.2 L1095,394.5 L1095.2,396.5 L1096.6,400.9 L1097,400.4 L1097.9,404.5 L1099,414.0 L1099.3,412.5 L1101,420.3 L1102,422.1 L1103,425.7 L1103.4,428.1 L1104.8,430.5 L1105,436.1 L1106.2,473.8 L1107,473.8 L1107.6,473.6 L1109,472.1 L1110.3,474.5 L1111,474.0 L1113,474.4 L1113.1,473.1 L1115,471.9 L1115.9,471.4 L1117,455.7 L1118.6,431.3 L1119,431.4 L1121,425.6 L1121.4,425.8 L1123,422.3 L1125,415.7 L1125.5,415.1 L1126.9,415.6 L1127,416.9 L1129,411.5 L1131,403.6 L1132.4,410.1 L1133,413.9 L1135,420.4 L1135.2,420.6 L1137,411.6 L1137.9,408.3 L1139,411.9 L1141,416.6 L1142,419.4 L1143,410.4 L1143.4,411.3 L1144.8,404.3 L1145,405.6 L1145.4,408.6 L1147,424.2 L1149,445.6 L1150.7,415.8 L1151,409.5 L1151.7,400.1 L1153,396.3 L1155,392.0 L1156,390.0 L1157,388.5 L1158.6,387.0 L1159,383.4 L1160,372.8 L1161,366.2 L1161.2,363.5 L1162.8,354.1 L1163,351.7 L1163.8,347.1 L1165,340.6 L1165.5,340.2 L1167,335.9 L1169,331.6 L1169.7,331.1 L1171,334.8 L1171.7,337.4 L1173,342.3 L1173.8,346.5 L1175,330.0 L1177,306.9 L1177.9,292.6 L1179,305.2 L1180.7,322.2 L1181,323.5 L1182.2,320.8 L1183,320.6 L1183.4,316.2 L1185,298.1 L1186.2,286.4 L1187,287.2 L1187.4,283.3 L1189,280.1 L1189.8,281.8 L1190,280.6" stroke="#ad4fe6"/>
<path d="M93,584.5 L95,580.4 L97,580.4 L99,578.9 L100.4,579.8 L101,581.8 L103,578.9 L105,579.2 L107,581.0 L107.3,580.7 L109,578.8 L111,580.7 L112.1,581.1 L113,583.1 L114.9,583.3 L115,580.3 L117,584.2 L117.5,585.9 L117.7,578.2 L118.5,559.2 L119,561.3 L119.7,559.8 L121,559.3 L123,557.6 L123.9,557.1 L125,556.2 L125.2,558.4 L125.5,560.4 L127,557.6 L129,556.9 L130,558.9 L130.8,556.7 L131,558.4 L133,556.8 L134.9,547.1 L135,546.1 L136.3,544.2 L137,539.3 L137.7,536.3 L138,538.2 L139,529.8 L139.7,522.0 L141,509.4 L141.1,509.7 L142,495.5 L143,464.4 L145,448.0 L145.5,441.6 L147,427.4 L148.8,383.4 L149,378.5 L150.5,372.5 L151,373.8 L152.1,370.5 L152.9,357.5 L153,355.1 L153.7,346.5 L155,343.6 L156.2,343.1 L157,340.6 L157.9,339.0 L159,336.4 L159.5,334.2 L161,332.5 L162.8,333.8 L163,334.2 L163.7,335.2 L165,344.1 L166.2,351.2 L166.75,349.5 L167,346.0 L167.5,341.2 L167.8,339.8 L168,341.4 L169,351.9 L169.5,353.7 L170,361.8 L171,377.3 L171.1,377.2 L172.8,389.6 L173,388.2 L174.4,389.0 L175,397.8 L176.1,409.2 L177,425.7 L177.5,435.4 L177.7,438.9 L178.7,480.7 L179,493.3 L181,513.6 L181.2,514.0 L183,521.3 L184.9,530.5 L185,527.7 L187,521.2 L189,514.0 L189.9,512.2 L191,515.9 L192.4,517.2 L193,516.3 L194.8,516.0 L195,516.3 L197,515.5 L197.3,515.5 L199,514.7 L199.8,513.7 L201,509.9 L203,511.9 L204.8,509.6 L205,509.7 L207,510.9 L207.3,509.2 L209,510.1 L211,513.0 L212.2,514.3 L213,506.6 L213.5,502.4 L215,489.0 L216,477.3 L217,482.9 L219,496.7 L219.7,498.7 L221,503.8 L222.2,511.2 L223,512.3 L224.7,521.7 L225,520.1 L227,526.4 L227.1,525.7 L229,528.1 L229.6,531.2 L231,532.9 L232.1,532.3 L233,535.8 L234.6,538.8 L235,541.9 L237,543.7 L238.3,544.4 L239,548.3 L241,548.8 L242,545.4 L243,559.0 L243.3,562.6 L244.5,565.2 L245,564.9 L245.8,565.4 L247,557.7 L249,546.4 L251,534.8 L252,530.1 L253,531.4 L255,526.3 L257,524.1 L259,524.2 L259.4,524.7 L261,519.1 L263,519.3 L265,511.7 L266.9,511.5 L267,512.4 L269,507.7 L269.4,510.2 L271,512.2 L273,515.1 L273.1,514.4 L274.3,444.0 L275,444.4 L277,445.5 L279,447.5 L279.3,446.8 L281,454.9 L283,461.7 L285,452.1 L287,442.9 L288,438.1 L289,440.4 L291,445.3 L293,450.6 L294.2,451.4 L295,449.4 L297,449.0 L299,450.1 L301,451.2 L302.9,454.4 L303,462.3 L304.2,534.9 L305,543.8 L307,558.9 L309,569.7 L309.1,568.4 L311,572.8 L311.6,570.8 L313,574.6 L314.1,580.0 L315,579.7 L316.6,582.1 L317,584.9 L319,584.0 L320,585.5 L321,583.8 L323,574.7 L325,570.0 L326.1,565.4 L327,561.5 L327.6,558.3 L329,550.8 L329.1,548.9 L331,542.0 L332.1,535.1 L333,535.9 L335,530.7 L335.2,528.1 L336.7,521.0 L337,522.4 L338.2,520.5 L339,521.0 L341,517.8 L342.8,516.6 L343,518.9 L344.3,520.1 L345,518.0 L347,519.5 L347.3,521.5 L348.8,519.7 L349,519.6 L351,514.7 L353,505.5 L353.4,503.5 L355,500.6 L356.4,496.9 L357,497.1 L358,499.3 L359,504.5 L361,511.4 L362.5,507.6 L363,507.6 L365,503.8 L365.5,501.0 L367,495.6 L368.6,493.6 L369,493.2 L370.1,492.2 L371,491.3 L371.6,491.9 L373,492.6 L375,492.9 L376.2,491.6 L377,495.8 L379,498.7 L380.7,500.2 L381,503.4 L383,518.1 L383.8,522.2 L385,527.4 L385.3,525.7 L386.8,531.8 L387,529.8 L388,511.2 L388.3,504.4 L389,488.0 L389.8,473.7 L391,478.1 L393,484.4 L394.4,490.6 L395,490.6 L397,497.4 L398.9,499.5 L399,499.6 L401,497.8 L403,498.6 L405,502.6 L407,498.9 L409,498.2 L411,496.4 L411.1,499.3 L413,500.2 L415,499.8 L417,501.0 L417.1,499.4 L418.7,561.5 L419,562.4 L421,563.7 L423,566.8 L425,569.1 L427,568.5 L429,570.6 L429.3,570.0 L431,574.8 L433,576.1 L435,578.9 L437,580.1 L438.4,579.4 L439,578.7 L441,583.9 L441.4,582.9 L443,587.3 L445,586.9 L447,591.5 L447.5,591.4 L449,592.4 L451,590.3 L453,587.2 L455,581.2 L456.6,578.8 L457,580.4 L459,573.6 L459.6,572.9 L461,570.4 L463,563.0 L465,559.0 L467,553.5 L468.8,548.2 L469,548.4 L470,550.2 L471,539.1 L473,521.4 L474.6,504.7 L475,505.6 L477,500.6 L479,494.3 L479.1,494.2 L481,492.1 L482.1,493.2 L483,492.6 L483.7,493.4 L485,494.1 L487,496.6 L488.2,499.8 L489,484.7 L489.7,469.4 L491,468.3 L493,473.8 L494.3,475.3 L495,473.4 L497,468.3 L497.3,467.5 L499,465.5 L500.4,463.9 L501,471.4 L501.9,478.7 L503,488.3 L503.4,495.6 L504.9,501.7 L505,501.8 L506.4,510.5 L507,506.5 L509,505.5 L511,503.6 L512.5,499.4 L513,495.3 L515,477.6 L515.5,475.4 L517,479.2 L517.1,482.7 L518.6,483.8 L519,486.3 L521,484.2 L523,482.8 L523.1,482.4 L524.6,481.6 L525,480.7 L527,466.6 L527.7,465.7 L529,465.3 L529.2,464.0 L530.7,461.5 L531,462.4 L532.2,460.2 L533,456.5 L533.8,449.6 L535,442.8 L535.3,441.4 L537,446.4 L538.3,450.8 L539,448.6 L539.8,447.6 L541,444.3 L541.3,432.9 L542.3,373.4 L542.5,358.8 L543,358.8 L545,364.8 L545.9,366.3 L547,367.7 L547.5,367.1 L549,371.1 L550.4,373.7 L551,376.6 L552.5,378.2 L553,373.2 L553.75,369.0 L555,359.9 L556,350.7 L557,353.9 L558,354.3 L559,355.7 L560,359.1 L561,346.0 L562.5,326.9 L562.6,328.2 L563,325.3 L565,334.7 L566,337.6 L567,333.9 L567.1,334.0 L567.5,333.3 L569,324.6 L570.2,334.9 L571,340.2 L571.7,395.1 L572,421.7 L573,421.5 L575,423.3 L576.3,424.3 L577,425.3 L577.8,432.4 L579,437.0 L579.3,437.7 L581,439.7 L582.3,442.9 L583,440.3 L583.8,439.5 L585,435.8 L585.4,436.4 L586.9,432.1 L587,434.0 L589,443.6 L591,453.5 L591.4,456.3 L593,459.9 L594.5,464.7 L595,459.6 L596,450.4 L597,443.8 L597.5,439.4 L599,413.4 L600,399.9 L600.5,378.2 L601,354.2 L602,308.4 L603,305.1 L604.8,292.2 L605,286.8 L607,272.9 L607.5,269.2 L608.1,268.1 L609,263.6 L610,263.8 L611,271.8 L612,277.9 L612.7,276.7 L613,274.7 L614.7,268.7 L615,271.1 L617,267.3 L618.3,219.4 L618.8,211.8 L619,207.2 L620,186.2 L621,183.3 L621.8,181.6 L622.4,180.4 L623,184.8 L623.7,188.0 L625,218.1 L625.5,230.7 L626.3,242.7 L626.4,244.5 L627,223.2 L627.5,202.0 L627.8,191.5 L629,212.5 L630,251.9 L631,291.1 L632.1,318.3 L632.5,328.8 L633,334.0 L635,342.9 L636,346.5 L637,354.4 L637.7,361.0 L639,373.9 L640,383.6 L641,384.6 L642,386.1 L643,386.7 L644,389.6 L645,410.8 L646,429.9 L647,436.9 L647.5,440.9 L648.7,452.3 L649,457.1 L651,462.2 L652.5,466.2 L653,473.0 L655,490.8 L655.3,494.9 L656.4,504.5 L657,511.8 L657.5,518.7 L659,521.0 L661,519.8 L663,523.2 L664.2,524.2 L665,525.0 L667,524.9 L669,524.5 L670,520.8 L671,521.8 L673,524.7 L675,528.5 L677,547.4 L677.5,552.7 L679,550.9 L680,551.6 L681,550.7 L683,545.7 L685,541.1 L687,538.5 L687.5,539.0 L689,535.4 L690,532.9 L691,529.5 L692,532.0 L693,532.5 L695,526.0 L697,530.7 L699,532.4 L700,534.0 L701,533.2 L702.5,534.3 L703,532.3 L705,519.5 L707,514.4 L708,509.2 L709,509.6 L709.5,507.6 L710,506.3 L710.5,506.1 L711,503.0 L713,499.0 L715,495.4 L717,491.8 L717.5,488.7 L719,496.8 L721,503.2 L723,507.4 L725,511.2 L727,506.5 L729,503.9 L731,498.5 L732.5,500.4 L733,504.2 L735,510.5 L737,517.5 L739,523.5 L740,526.5 L741,521.7 L742.5,509.8 L743,511.4 L745,522.2 L746,527.1 L747,524.1 L749,516.0 L751,508.1 L752.5,504.0 L753,505.9 L755,508.6 L757,511.6 L757.5,513.1 L759,522.0 L760,525.2 L761,530.8 L762.5,531.4 L763,532.5 L765,536.8 L767,539.0 L767.5,540.5 L769,541.8 L770,544.8 L771,547.5 L772.5,546.7 L773,545.9 L775,550.1 L777,555.5 L779,564.4 L780,564.5 L781,571.4 L783,569.1 L785,566.9 L787,561.8 L787.5,559.4 L789,556.6 L791,551.4 L792.5,545.3 L793,543.1 L795,533.8 L796,531.7 L797,528.4 L797.5,527.4 L799,526.4 L801,529.5 L803,530.0 L805,531.3 L806,530.8 L807,500.1 L808,468.6 L809,436.7 L810,404.5 L810.5,403.9 L811,401.2 L813,391.4 L815,381.8 L816.6,378.0 L817,375.9 L817.5,375.9 L819,370.7 L820,368.0 L820.7,370.0 L821,368.3 L822.5,372.5 L823,376.9 L824.8,380.1 L825,381.1 L827,376.1 L827.5,374.9 L829,374.2 L830,370.7 L830.3,369.8 L831,368.9 L832.5,358.6 L833,353.3 L834,348.3 L835,292.2 L835.5,264.1 L835.9,281.4 L837,328.4 L837.7,358.6 L838.9,367.8 L839,365.9 L840,376.3 L841,368.2 L842.4,354.0 L843,344.6 L843.6,338.9 L844.8,327.2 L845,324.4 L846,317.2 L847,311.1 L848.3,305.2 L848.75,303.7 L849,301.1 L849.4,300.4 L850.6,293.8 L851,292.1 L851.8,290.5 L852.5,285.7 L853,283.5 L854,238.8 L855,193.8 L855.3,196.9 L857,194.3 L857.7,193.6 L858.75,191.9 L858.8,191.1 L859,193.5 L861,181.0 L862.9,134.8 L863,135.4 L863.5,122.9 L863.75,117.4 L864.8,141.0 L865,143.1 L866,165.5 L866.2,162.3 L867,157.0 L867.7,148.9 L868.75,139.4 L869,141.5 L870.6,149.0 L871,154.0 L872.5,172.4 L873,177.9 L873.1,181.1 L873.75,188.6 L875,173.8 L875.4,167.8 L875.9,162.8 L876,159.7 L877,164.4 L877.3,167.0 L878.75,172.1 L879,176.4 L879.3,176.6 L880,184.0 L881,194.5 L882.2,194.4 L882.5,189.9 L882.8,192.4 L883,196.8 L885,227.6 L885.1,226.4 L886.9,209.2 L887,210.2 L888,201.6 L888.75,196.8 L889,198.0 L889.7,199.4 L891,208.3 L891.8,241.1 L892.5,266.9 L893,286.1 L893.75,317.9 L895,325.3 L897,339.0 L897.5,339.9 L899,345.6 L900,349.6 L901,356.9 L902.5,364.4 L903,375.0 L905,407.4 L906,426.3 L907,431.7 L907.5,434.3 L909,447.7 L910,455.1 L911,461.5 L912.5,474.0 L913,479.5 L915,486.1 L917,497.1 L917.5,499.7 L919,503.5 L920,505.9 L921,491.7 L922.5,469.6 L923,470.0 L925,472.8 L927,474.8 L927.5,475.1 L929,479.8 L930,480.3 L931,485.6 L932.5,489.6 L933,494.2 L935,502.8 L937,510.4 L939,518.8 L940,523.2 L941,523.1 L943,519.3 L945,515.4 L947,511.6 L947.5,511.1 L949,517.5 L951,527.8 L952.5,533.3 L953,530.6 L955,518.9 L957,509.0 L957.5,506.0 L959,503.7 L961,505.1 L963,507.1 L965,504.3 L967,504.0 L969,507.6 L970,506.6 L971,508.7 L972.5,513.1 L973,514.4 L975,518.4 L977,514.9 L977.5,515.0 L979,515.7 L980,509.9 L981,514.1 L982.5,520.8 L983,523.1 L985,529.9 L986,530.6 L987,533.6 L987.5,534.6 L989,534.1 L990,536.7 L991,536.8 L992.5,539.1 L993,537.0 L995,524.6 L997,516.1 L997.5,513.3 L999,507.7 L1000,506.7 L1001,502.5 L1003,497.1 L1004.1,494.0 L1005,498.2 L1006.9,512.0 L1007,512.3 L1009,509.8 L1011,502.0 L1012.5,495.0 L1013,492.0 L1013.8,488.2 L1015,486.8 L1017,479.4 L1017.9,474.0 L1019,472.2 L1019.3,470.0 L1021,461.6 L1022,458.5 L1023,452.8 L1024.8,440.9 L1025,440.2 L1027,449.1 L1027.6,452.2 L1029,451.9 L1030.3,451.0 L1031,452.2 L1033,454.6 L1033.1,458.3 L1035,462.7 L1037,464.3 L1038.6,466.6 L1039,469.5 L1041,476.7 L1043,478.0 L1044.1,481.5 L1045,479.5 L1047,478.1 L1048.3,475.7 L1049,478.7 L1049.7,484.4 L1051,488.4 L1052.4,496.0 L1053,492.8 L1055,493.7 L1055.2,493.4 L1057,494.6 L1057.9,496.3 L1059,495.2 L1060.7,494.3 L1061,495.8 L1063,497.8 L1063.4,495.5 L1064.8,496.1 L1065,497.9 L1066.2,504.0 L1067,501.8 L1069,491.5 L1071,487.0 L1071.7,486.3 L1073,470.5 L1074.5,451.2 L1075,443.6 L1075.9,433.2 L1077,421.9 L1077.2,418.9 L1078.6,417.8 L1079,414.0 L1081,406.2 L1082.8,402.1 L1083,402.5 L1085,404.5 L1085.5,405.0 L1087,407.1 L1088.3,409.5 L1089,408.0 L1091,404.9 L1093,406.0 L1093.8,404.2 L1095,410.2 L1095.2,409.9 L1096.6,415.0 L1097,415.4 L1097.9,418.6 L1099,426.0 L1099.3,425.3 L1101,433.5 L1102,434.2 L1103,439.7 L1103.4,441.5 L1104.8,464.4 L1105,467.5 L1106.2,489.2 L1107,485.7 L1107.6,483.1 L1109,479.3 L1110.3,482.0 L1111,479.7 L1113,479.3 L1113.1,478.1 L1115,477.3 L1115.9,476.2 L1117,460.7 L1118.6,435.0 L1119,434.4 L1121,428.1 L1121.4,429.3 L1123,426.1 L1125,420.3 L1125.5,417.3 L1126.9,417.6 L1127,418.5 L1129,412.3 L1131,405.3 L1132.4,411.7 L1133,416.7 L1135,421.9 L1135.2,421.3 L1137,414.3 L1137.9,412.3 L1139,416.1 L1141,419.5 L1142,422.8 L1143,414.4 L1143.4,413.8 L1144.8,405.6 L1145,407.3 L1145.4,411.6 L1147,425.5 L1149,447.5 L1150.7,419.2 L1151,412.6 L1151.7,403.0 L1153,397.8 L1155,393.8 L1156,391.6 L1157,391.6 L1158.6,390.8 L1159,385.1 L1160,374.8 L1161,369.8 L1161.2,366.0 L1162.8,358.0 L1163,355.6 L1163.8,350.4 L1165,343.1 L1165.5,342.6 L1167,337.7 L1169,333.8 L1169.7,335.0 L1171,337.0 L1171.7,341.2 L1173,345.1 L1173.8,349.5 L1175,332.2 L1177,309.0 L1177.9,295.2 L1179,307.4 L1180.7,324.0 L1181,326.1 L1182.2,324.7 L1183,322.8 L1183.4,318.1 L1185,301.3 L1186.2,289.6 L1187,288.7 L1187.4,285.8 L1189,282.6 L1189.8,283.8 L1190,282.1" stroke="#e27a45"/>
<path d="M93,594.0 L95,590.0 L97,591.3 L99,589.6 L100.4,590.2 L101,588.9 L103,588.0 L105,589.5 L107,588.2 L107.3,589.7 L109,589.0 L111,588.9 L112.1,588.1 L113,591.4 L114.9,590.9 L115,590.0 L117,600.4 L117.5,600.6 L117.7,598.4 L118.5,592.9 L119,592.6 L119.7,589.4 L121,590.3 L123,590.6 L123.9,588.9 L125,589.3 L125.2,590.4 L125.5,590.1 L127,590.6 L129,589.1 L130,591.4 L130.8,592.3 L131,591.9 L133,589.0 L134.9,590.0 L135,589.5 L136.3,586.9 L137,580.9 L137.7,579.2 L138,575.4 L139,555.4 L139.7,541.5 L141,514.7 L141.1,515.3 L142,495.5 L143,464.4 L145,448.0 L145.5,441.6 L147,430.2 L148.8,415.0 L149,412.1 L150.5,403.7 L151,403.2 L152.1,397.4 L152.9,395.1 L153,393.4 L153.7,390.9 L155,388.4 L156.2,388.3 L157,389.4 L157.9,386.9 L159,383.1 L159.5,383.5 L161,380.4 L162.8,375.8 L163,375.4 L163.7,375.8 L165,379.1 L166.2,378.0 L166.75,383.2 L167,380.7 L167.5,386.8 L167.8,387.0 L168,390.4 L169,398.8 L169.5,400.3 L170,405.5 L171,413.1 L171.1,412.2 L172.8,433.4 L173,433.5 L174.4,459.9 L175,469.5 L176.1,488.5 L177,503.9 L177.5,510.5 L177.7,514.3 L178.7,520.3 L179,519.2 L181,531.5 L181.2,532.2 L183,535.2 L184.9,541.1 L185,539.0 L187,539.3 L189,536.9 L189.9,537.4 L191,540.3 L192.4,539.8 L193,538.7 L194.8,538.7 L195,536.7 L197,538.3 L197.3,539.5 L199,540.8 L199.8,539.6 L201,538.1 L203,539.0 L204.8,535.2 L205,534.9 L207,536.0 L207.3,533.6 L209,530.6 L211,530.0 L212.2,528.6 L213,527.1 L213.5,528.0 L215,515.0 L216,506.1 L217,507.5 L219,513.3 L219.7,514.7 L221,515.9 L222.2,523.0 L223,521.5 L224.7,522.7 L225,522.5 L227,527.8 L227.1,530.4 L229,533.5 L229.6,532.6 L231,534.9 L232.1,535.8 L233,540.6 L234.6,544.3 L235,546.5 L237,552.4 L238.3,551.5 L239,553.5 L241,554.6 L242,553.0 L243,565.9 L243.3,568.1 L244.5,574.8 L245,575.8 L245.8,577.8 L247,569.7 L249,562.2 L251,550.9 L252,547.5 L253,550.3 L255,544.7 L257,540.9 L259,542.4 L259.4,542.0 L261,540.5 L263,540.8 L265,536.0 L266.9,535.1 L267,536.3 L269,533.1 L269.4,535.5 L271,533.3 L273,530.7 L273.1,526.9 L274.3,463.4 L275,464.3 L277,465.0 L279,465.9 L279.3,464.4 L281,471.1 L283,479.0 L285,471.2 L287,462.3 L288,459.3 L289,462.5 L291,464.2 L293,467.8 L294.2,468.7 L295,466.1 L297,467.1 L299,468.4 L301,471.0 L302.9,472.8 L303,478.6 L304.2,534.9 L305,543.8 L307,563.0 L309,573.8 L309.1,569.8 L311,576.7 L311.6,578.6 L313,583.9 L314.1,588.3 L315,591.5 L316.6,594.8 L317,597.7 L319,600.1 L320,601.5 L321,601.2 L323,593.0 L325,587.7 L326.1,585.1 L327,583.8 L327.6,580.2 L329,575.9 L329.1,574.2 L331,569.9 L332.1,564.1 L333,562.7 L335,556.7 L335.2,553.6 L336.7,551.1 L337,553.4 L338.2,550.8 L339,551.6 L341,547.4 L342.8,544.5 L343,545.9 L344.3,549.1 L345,546.1 L347,544.6 L347.3,544.2 L348.8,542.3 L349,543.8 L351,543.5 L353,541.8 L353.4,541.2 L355,534.3 L356.4,530.0 L357,526.8 L358,525.6 L359,525.2 L361,526.1 L362.5,522.6 L363,522.9 L365,522.9 L365.5,523.2 L367,519.2 L368.6,518.5 L369,517.4 L370.1,517.7 L371,521.0 L371.6,524.6 L373,524.8 L375,527.1 L376.2,527.9 L377,529.4 L379,532.5 L380.7,537.5 L381,540.2 L383,544.3 L383.8,546.3 L385,546.2 L385.3,545.3 L386.8,546.1 L387,545.9 L388,550.3 L388.3,549.1 L389,526.4 L389.8,504.0 L391,503.8 L393,505.7 L394.4,506.3 L395,504.1 L397,506.5 L398.9,506.6 L399,508.7 L401,507.5 L403,508.9 L405,510.4 L407,509.2 L409,511.9 L411,510.6 L411.1,513.4 L413,510.5 L415,508.9 L417,508.8 L417.1,511.3 L418.7,574.5 L419,571.0 L421,574.0 L423,576.5 L425,581.4 L427,581.5 L429,584.7 L429.3,585.0 L431,587.2 L433,588.0 L435,593.6 L437,594.3 L438.4,593.0 L439,594.4 L441,597.1 L441.4,595.0 L443,598.5 L445,598.7 L447,604.7 L447.5,606.9 L449,606.4 L451,601.8 L453,598.7 L455,595.9 L456.6,592.4 L457,595.4 L459,591.1 L459.6,591.1 L461,586.8 L463,581.3 L465,577.1 L467,577.1 L468.8,573.1 L469,570.3 L470,570.0 L471,560.3 L473,544.1 L474.6,531.3 L475,532.1 L477,532.2 L479,529.0 L479.1,528.3 L481,526.1 L482.1,523.0 L483,526.5 L483.7,528.3 L485,529.9 L487,528.0 L488.2,530.9 L489,520.7 L489.7,510.5 L491,506.1 L493,505.6 L494.3,506.5 L495,506.0 L497,503.8 L497.3,503.0 L499,504.8 L500.4,507.3 L501,507.4 L501.9,508.1 L503,510.9 L503.4,514.2 L504.9,520.0 L505,519.1 L506.4,517.3 L507,515.8 L509,519.5 L511,519.0 L512.5,514.8 L513,516.9 L515,505.1 L515.5,503.4 L517,497.4 L517.1,498.6 L518.6,496.3 L519,496.1 L521,493.0 L523,492.7 L523.1,491.2 L524.6,490.8 L525,489.9 L527,486.1 L527.7,487.2 L529,487.8 L529.2,487.7 L530.7,485.8 L531,485.6 L532.2,484.9 L533,483.3 L533.8,484.5 L535,485.1 L535.3,485.6 L537,486.7 L538.3,484.0 L539,483.9 L539.8,483.5 L541,444.3 L541.3,432.9 L542.3,404.1 L542.5,399.4 L543,399.5 L545,402.6 L545.9,405.9 L547,405.5 L547.5,407.0 L549,410.3 L550.4,413.7 L551,417.4 L552.5,419.5 L553,421.6 L553.75,426.3 L555,429.8 L556,430.0 L557,430.6 L558,432.2 L559,433.7 L560,435.4 L561,435.4 L562.5,436.8 L562.6,438.2 L563,435.7 L565,440.3 L566,435.7 L567,428.9 L567.1,427.9 L567.5,429.8 L569,433.9 L570.2,439.7 L571,440.7 L571.7,526.1 L572,528.3 L573,529.8 L575,531.2 L576.3,535.7 L577,537.3 L577.8,541.7 L579,538.1 L579.3,536.7 L581,530.9 L582.3,527.1 L583,522.8 L583.8,521.8 L585,516.9 L585.4,517.9 L586.9,515.8 L587,517.2 L589,511.9 L591,512.8 L591.4,509.7 L593,496.9 L594.5,486.3 L595,487.9 L596,486.5 L597,487.9 L597.5,489.4 L599,491.9 L600,450.1 L600.5,428.7 L601,408.0 L602,368.5 L603,370.0 L604.8,368.7 L605,365.7 L607,365.9 L607.5,366.1 L608.1,364.5 L609,366.2 L610,370.8 L611,372.5 L612,375.7 L612.7,377.1 L613,377.4 L614.7,379.4 L615,382.9 L617,368.0 L618.3,361.3 L618.8,359.5 L619,359.7 L620,352.9 L621,345.9 L621.8,348.8 L622.4,350.0 L623,354.3 L623.7,355.8 L625,361.1 L625.5,364.3 L626.3,373.3 L626.4,374.3 L627,381.5 L627.5,388.4 L627.8,387.5 L629,391.6 L630,391.9 L631,427.9 L632.1,467.4 L632.5,468.3 L633,471.8 L635,481.2 L636,485.3 L637,488.1 L637.7,493.1 L639,494.9 L640,494.8 L641,498.0 L642,500.5 L643,502.3 L644,502.4 L645,505.0 L646,507.6 L647,507.6 L647.5,506.4 L648.7,511.3 L649,511.9 L651,513.5 L652.5,514.6 L653,514.6 L655,517.5 L655.3,518.9 L656.4,552.9 L657,552.3 L657.5,556.8 L659,558.2 L661,558.0 L663,560.5 L664.2,560.8 L665,561.9 L667,563.4 L669,565.4 L670,565.9 L671,565.4 L673,563.3 L675,566.6 L677,587.5 L677.5,592.7 L679,593.0 L680,593.2 L681,593.7 L683,592.2 L685,588.7 L687,587.5 L687.5,589.7 L689,586.1 L690,584.3 L691,580.5 L692,579.1 L693,579.3 L695,574.5 L697,576.1 L699,571.6 L700,574.2 L701,574.8 L702.5,573.0 L703,574.5 L705,574.7 L707,575.0 L708,574.8 L709,576.2 L709.5,574.7 L710,575.5 L710.5,574.8 L711,571.8 L713,574.9 L715,576.8 L717,578.8 L717.5,576.5 L719,581.2 L721,583.5 L723,587.6 L725,590.8 L727,587.0 L729,587.4 L731,584.2 L732.5,583.0 L733,585.4 L735,586.5 L737,587.0 L739,588.8 L740,590.8 L741,591.7 L742.5,593.3 L743,593.1 L745,596.0 L746,598.2 L747,592.3 L749,586.7 L751,580.5 L752.5,574.6 L753,575.8 L755,578.5 L757,583.7 L757.5,584.6 L759,586.9 L760,586.9 L761,587.4 L762.5,587.1 L763,588.0 L765,587.8 L767,588.8 L767.5,586.1 L769,586.6 L770,587.9 L771,585.7 L772.5,584.8 L773,584.6 L775,584.8 L777,589.4 L779,596.1 L780,597.3 L781,601.6 L783,598.7 L785,597.6 L787,594.1 L787.5,593.0 L789,587.4 L791,580.1 L792.5,571.9 L793,570.3 L795,559.0 L796,559.9 L797,558.7 L797.5,558.9 L799,555.4 L801,553.7 L803,553.5 L805,555.1 L806,555.5 L807,555.9 L808,554.8 L809,489.8 L810,423.7 L810.5,421.7 L811,418.7 L813,415.3 L815,411.7 L816.6,408.9 L817,408.7 L817.5,409.9 L819,408.4 L820,402.5 L820.7,400.5 L821,397.3 L822.5,392.4 L823,396.4 L824.8,401.7 L825,403.1 L827,408.0 L827.5,408.9 L829,405.0 L830,404.5 L830.3,406.4 L831,407.0 L832.5,400.9 L833,385.4 L834,355.3 L835,329.2 L835.5,339.8 L835.9,326.7 L837,374.4 L837.7,390.3 L838.9,418.7 L839,416.0 L840,415.1 L841,408.3 L842.4,402.4 L843,397.2 L843.6,391.0 L844.8,387.6 L845,387.2 L846,384.2 L847,367.6 L848.3,346.8 L848.75,341.7 L849,338.2 L849.4,333.5 L850.6,318.4 L851,313.5 L851.8,310.1 L852.5,305.9 L853,301.5 L854,296.5 L855,288.6 L855.3,289.1 L857,279.0 L857.7,273.6 L858.75,266.8 L858.8,270.2 L859,271.0 L861,258.9 L862.9,249.7 L863,250.9 L863.5,247.4 L863.75,248.9 L864.8,241.1 L865,238.2 L866,239.1 L866.2,240.7 L867,240.1 L867.7,240.3 L868.75,245.5 L869,247.8 L870.6,256.6 L871,263.2 L872.5,284.7 L873,279.1 L873.1,278.3 L873.75,272.9 L875,261.7 L875.4,257.5 L875.9,259.2 L876,257.9 L877,257.2 L877.3,259.8 L878.75,278.9 L879,283.5 L879.3,285.1 L880,288.1 L881,295.5 L882.2,302.3 L882.5,301.0 L882.8,299.1 L883,299.9 L885,308.7 L885.1,308.5 L886.9,304.8 L887,305.7 L888,305.4 L888.75,307.8 L889,305.5 L889.7,307.3 L891,311.1 L891.8,315.6 L892.5,409.5 L893,413.4 L893.75,420.1 L895,420.6 L897,431.2 L897.5,433.3 L899,438.2 L900,440.4 L901,447.0 L902.5,461.5 L903,467.2 L905,481.3 L906,502.1 L907,519.5 L907.5,529.2 L909,529.9 L910,531.3 L911,529.7 L912.5,533.0 L913,536.5 L915,536.1 L917,543.6 L917.5,546.6 L919,551.2 L920,551.8 L921,542.3 L922.5,533.7 L923,535.7 L925,535.5 L927,537.0 L927.5,539.5 L929,542.2 L930,541.3 L931,543.7 L932.5,548.1 L933,550.3 L935,553.9 L937,559.4 L939,562.7 L940,564.8 L941,562.1 L943,560.2 L945,562.2 L947,560.8 L947.5,560.3 L949,563.8 L951,571.6 L952.5,575.3 L953,572.6 L955,563.0 L957,549.8 L957.5,546.5 L959,545.9 L961,546.9 L963,545.2 L965,545.9 L967,544.9 L969,545.9 L970,544.3 L971,546.2 L972.5,550.3 L973,552.1 L975,550.8 L977,548.5 L977.5,546.2 L979,554.4 L980,556.7 L981,560.9 L982.5,566.7 L983,567.9 L985,574.9 L986,572.5 L987,573.2 L987.5,574.7 L989,576.3 L990,577.8 L991,576.7 L992.5,580.3 L993,580.1 L995,568.8 L997,559.2 L997.5,555.7 L999,552.9 L1000,554.7 L1001,555.4 L1003,557.2 L1004.1,559.9 L1005,560.1 L1006.9,563.5 L1007,564.6 L1009,568.9 L1011,570.6 L1012.5,570.3 L1013,568.8 L1013.8,566.2 L1015,568.7 L1017,566.2 L1017.9,562.0 L1019,559.9 L1019.3,558.8 L1021,552.5 L1022,551.1 L1023,550.0 L1024.8,543.8 L1025,543.9 L1027,563.9 L1027.6,570.1 L1029,558.4 L1030.3,549.3 L1031,544.9 L1033,543.2 L1033.1,546.3 L1035,546.5 L1037,544.1 L1038.6,541.4 L1039,541.9 L1041,540.3 L1043,535.2 L1044.1,533.8 L1045,532.7 L1047,529.4 L1048.3,531.2 L1049,529.1 L1049.7,529.0 L1051,531.5 L1052.4,537.9 L1053,536.4 L1055,543.3 L1055.2,542.3 L1057,542.5 L1057.9,548.6 L1059,548.1 L1060.7,551.5 L1061,552.0 L1063,552.6 L1063.4,548.7 L1064.8,546.7 L1065,546.1 L1066.2,548.3 L1067,549.7 L1069,545.9 L1071,543.0 L1071.7,542.3 L1073,543.2 L1074.5,541.4 L1075,528.3 L1075.9,505.8 L1077,480.0 L1077.2,474.4 L1078.6,478.2 L1079,478.3 L1081,476.6 L1082.8,477.1 L1083,476.8 L1085,480.0 L1085.5,479.0 L1087,483.0 L1088.3,489.0 L1089,486.4 L1091,486.7 L1093,488.9 L1093.8,488.0 L1095,490.9 L1095.2,488.0 L1096.6,491.2 L1097,488.6 L1097.9,492.4 L1099,493.5 L1099.3,490.9 L1101,492.0 L1102,492.8 L1103,494.4 L1103.4,493.6 L1104.8,495.5 L1105,506.5 L1106.2,559.0 L1107,556.6 L1107.6,549.8 L1109,543.9 L1110.3,542.4 L1111,539.0 L1113,537.4 L1113.1,534.8 L1115,533.2 L1115.9,529.6 L1117,519.1 L1118.6,499.6 L1119,497.3 L1121,493.7 L1121.4,495.1 L1123,492.2 L1125,486.3 L1125.5,485.7 L1126.9,486.3 L1127,485.0 L1129,480.3 L1131,473.7 L1132.4,471.3 L1133,473.2 L1135,474.9 L1135.2,475.1 L1137,474.9 L1137.9,476.0 L1139,479.7 L1141,485.3 L1142,485.9 L1143,486.3 L1143.4,487.8 L1144.8,490.5 L1145,492.2 L1145.4,492.8 L1147,489.8 L1149,489.8 L1150.7,483.2 L1151,481.5 L1151.7,478.3 L1153,469.4 L1155,469.2 L1156,468.0 L1157,466.7 L1158.6,463.3 L1159,461.9 L1160,457.3 L1161,455.5 L1161.2,453.3 L1162.8,446.4 L1163,444.0 L1163.8,436.8 L1165,429.9 L1165.5,428.9 L1167,422.1 L1169,417.2 L1169.7,415.0 L1171,407.7 L1171.7,404.4 L1173,399.9 L1173.8,394.4 L1175,385.5 L1177,376.3 L1177.9,382.6 L1179,387.5 L1180.7,393.5 L1181,396.0 L1182.2,401.4 L1183,395.6 L1183.4,388.9 L1185,377.8 L1186.2,376.5 L1187,373.5 L1187.4,369.8 L1189,364.9 L1189.8,362.9 L1190,359.1" stroke="#d9649a"/>
<path d="M93,609.5 L95,608.1 L97,609.4 L99,607.3 L100.4,608.3 L101,608.2 L103,607.1 L105,608.8 L107,607.7 L107.3,608.8 L109,608.0 L111,608.4 L112.1,610.2 L113,613.0 L114.9,611.8 L115,611.9 L117,625.2 L117.5,625.8 L117.7,624.5 L118.5,621.0 L119,621.5 L119.7,616.2 L121,618.0 L123,616.0 L123.9,614.5 L125,613.5 L125.2,613.9 L125.5,616.5 L127,615.1 L129,616.5 L130,617.4 L130.8,616.7 L131,617.1 L133,615.7 L134.9,615.4 L135,615.7 L136.3,618.2 L137,616.7 L137.7,614.7 L138,615.1 L139,612.9 L139.7,610.7 L141,597.2 L141.1,596.5 L142,589.4 L143,580.1 L145,560.1 L145.5,557.9 L147,546.3 L148.8,530.5 L149,531.1 L150.5,516.7 L151,515.4 L152.1,513.8 L152.9,509.5 L153,509.8 L153.7,506.1 L155,504.4 L156.2,502.3 L157,499.8 L157.9,498.5 L159,493.4 L159.5,492.8 L161,488.5 L162.8,483.3 L163,482.1 L163.7,480.8 L165,476.9 L166.2,470.7 L166.75,468.7 L167,467.0 L167.5,470.6 L167.8,472.2 L168,474.7 L169,478.5 L169.5,478.0 L170,479.3 L171,485.2 L171.1,483.3 L172.8,492.6 L173,492.7 L174.4,499.0 L175,501.4 L176.1,520.6 L177,532.3 L177.5,539.6 L177.7,543.1 L178.7,560.2 L179,558.5 L181,563.8 L181.2,565.0 L183,571.1 L184.9,576.1 L185,576.6 L187,575.6 L189,576.4 L189.9,576.6 L191,579.4 L192.4,581.6 L193,581.1 L194.8,587.4 L195,587.3 L197,588.6 L197.3,589.9 L199,592.1 L199.8,591.6 L201,589.8 L203,590.6 L204.8,590.6 L205,591.6 L207,593.4 L207.3,593.2 L209,591.6 L211,590.9 L212.2,590.7 L213,587.8 L213.5,590.1 L215,576.6 L216,567.8 L217,569.5 L219,571.0 L219.7,571.4 L221,571.1 L222.2,573.9 L223,572.9 L224.7,573.8 L225,574.4 L227,576.3 L227.1,577.1 L229,577.1 L229.6,576.8 L231,577.9 L232.1,578.4 L233,580.0 L234.6,579.8 L235,583.4 L237,585.4 L238.3,584.6 L239,584.8 L241,586.7 L242,587.8 L243,602.9 L243.3,610.5 L244.5,617.4 L245,612.9 L245.8,607.4 L247,598.0 L249,584.9 L251,573.3 L252,567.1 L253,568.6 L255,564.8 L257,561.4 L259,562.9 L259.4,562.2 L261,559.8 L263,560.1 L265,557.6 L266.9,558.3 L267,560.8 L269,560.3 L269.4,559.6 L271,556.6 L273,554.9 L273.1,553.7 L274.3,487.4 L275,488.0 L277,491.1 L279,491.6 L279.3,490.7 L281,500.8 L283,512.0 L285,502.3 L287,492.2 L288,487.2 L289,487.7 L291,486.9 L293,488.6 L294.2,489.0 L295,487.5 L297,487.2 L299,488.5 L301,489.3 L302.9,491.9 L303,497.2 L304.2,534.9 L305,543.8 L307,563.0 L309,581.5 L309.1,579.9 L311,586.7 L311.6,588.6 L313,594.4 L314.1,599.2 L315,603.8 L316.6,611.0 L317,612.9 L319,618.1 L320,621.5 L321,619.2 L323,610.4 L325,605.6 L326.1,603.9 L327,601.4 L327.6,599.6 L329,594.1 L329.1,592.0 L331,590.0 L332.1,586.6 L333,586.4 L335,583.8 L335.2,581.5 L336.7,577.7 L337,579.1 L338.2,576.7 L339,573.4 L341,570.1 L342.8,567.8 L343,570.7 L344.3,570.4 L345,567.2 L347,567.1 L347.3,568.3 L348.8,566.1 L349,564.2 L351,562.3 L353,558.5 L353.4,556.8 L355,565.7 L356.4,570.5 L357,572.1 L358,577.0 L359,573.5 L361,570.7 L362.5,568.0 L363,565.8 L365,566.0 L365.5,566.1 L367,566.6 L368.6,569.0 L369,568.4 L370.1,569.4 L371,569.4 L371.6,573.1 L373,573.7 L375,576.1 L376.2,578.1 L377,581.9 L379,585.9 L380.7,592.1 L381,591.5 L383,595.1 L383.8,596.5 L385,596.5 L385.3,598.0 L386.8,596.6 L387,595.4 L388,597.9 L388.3,588.6 L389,570.8 L389.8,551.1 L391,551.4 L393,551.1 L394.4,551.9 L395,552.4 L397,554.3 L398.9,552.5 L399,553.3 L401,550.8 L403,549.0 L405,549.6 L407,547.8 L409,546.5 L411,545.9 L411.1,546.9 L413,544.4 L415,543.4 L417,541.9 L417.1,541.6 L418.7,606.2 L419,605.5 L421,606.1 L423,606.4 L425,608.9 L427,609.3 L429,610.6 L429.3,611.2 L431,610.2 L433,612.3 L435,616.0 L437,618.4 L438.4,616.8 L439,616.1 L441,619.3 L441.4,618.5 L443,620.5 L445,622.2 L447,626.9 L447.5,629.0 L449,628.9 L451,624.5 L453,624.1 L455,622.8 L456.6,619.3 L457,621.0 L459,619.4 L459.6,615.8 L461,615.8 L463,611.2 L465,607.9 L467,607.0 L468.8,604.6 L469,601.7 L470,601.6 L471,594.7 L473,579.6 L474.6,567.1 L475,566.9 L477,567.1 L479,563.2 L479.1,564.5 L481,563.0 L482.1,560.3 L483,560.4 L483.7,561.6 L485,561.2 L487,558.3 L488.2,560.9 L489,548.5 L489.7,538.3 L491,534.4 L493,532.8 L494.3,530.9 L495,533.3 L497,531.4 L497.3,530.2 L499,528.8 L500.4,529.5 L501,529.4 L501.9,526.1 L503,532.4 L503.4,538.0 L504.9,548.3 L505,548.8 L506.4,546.8 L507,545.8 L509,548.8 L511,549.4 L512.5,548.4 L513,549.5 L515,541.5 L515.5,540.2 L517,552.1 L517.1,555.2 L518.6,567.4 L519,568.3 L521,560.5 L523,552.6 L523.1,552.8 L524.6,549.4 L525,546.5 L527,541.0 L527.7,540.7 L529,537.4 L529.2,536.0 L530.7,539.8 L531,540.0 L532.2,543.6 L533,546.3 L533.8,548.7 L535,550.4 L535.3,549.1 L537,548.9 L538.3,547.1 L539,547.0 L539.8,545.4 L541,545.3 L541.3,544.3 L542.3,459.1 L542.5,459.7 L543,458.7 L545,461.0 L545.9,464.1 L547,463.0 L547.5,465.6 L549,466.8 L550.4,468.6 L551,471.8 L552.5,474.7 L553,476.0 L553.75,478.8 L555,484.0 L556,484.7 L557,488.7 L558,491.5 L559,491.8 L560,491.3 L561,491.2 L562.5,490.6 L562.6,490.3 L563,488.7 L565,486.1 L566,482.5 L567,478.9 L567.1,478.0 L567.5,482.1 L569,488.0 L570.2,491.3 L571,536.5 L571.7,576.6 L572,576.9 L573,579.1 L575,581.3 L576.3,584.1 L577,584.8 L577.8,589.0 L579,592.2 L579.3,591.4 L581,585.3 L582.3,584.4 L583,580.8 L583.8,578.1 L585,573.3 L585.4,573.2 L586.9,571.7 L587,572.0 L589,567.9 L591,565.7 L591.4,563.2 L593,559.3 L594.5,554.8 L595,554.5 L596,550.8 L597,550.0 L597.5,550.9 L599,550.8 L600,488.0 L600.5,456.2 L601,456.4 L602,454.6 L603,452.9 L604.8,450.2 L605,448.0 L607,443.0 L607.5,444.4 L608.1,440.6 L609,444.3 L610,447.2 L611,447.3 L612,452.3 L612.7,455.5 L613,455.0 L614.7,455.6 L615,456.1 L617,453.8 L618.3,454.6 L618.8,454.8 L619,456.0 L620,455.1 L621,453.9 L621.8,451.8 L622.4,456.4 L623,459.5 L623.7,463.6 L625,469.4 L625.5,470.6 L626.3,475.1 L626.4,476.0 L627,475.7 L627.5,479.0 L627.8,479.3 L629,480.6 L630,481.6 L631,509.6 L632.1,539.4 L632.5,548.0 L633,552.3 L635,560.5 L636,563.4 L637,566.9 L637.7,570.0 L639,572.3 L640,577.9 L641,577.2 L642,576.5 L643,577.4 L644,580.2 L645,579.6 L646,582.0 L647,584.5 L647.5,583.5 L648.7,578.8 L649,577.9 L651,572.8 L652.5,569.0 L653,570.7 L655,578.7 L655.3,577.4 L656.4,580.9 L657,583.4 L657.5,587.6 L659,587.0 L661,588.1 L663,586.4 L664.2,585.9 L665,586.7 L667,589.1 L669,590.5 L670,591.1 L671,589.1 L673,588.4 L675,587.3 L677,611.3 L677.5,615.7 L679,619.7 L680,618.8 L681,622.2 L683,624.9 L685,623.1 L687,617.8 L687.5,618.1 L689,615.4 L690,610.9 L691,608.7 L692,607.1 L693,609.2 L695,605.8 L697,605.1 L699,602.1 L700,602.4 L701,605.2 L702.5,603.3 L703,605.4 L705,605.8 L707,608.1 L708,608.4 L709,606.7 L709.5,608.8 L710,608.1 L710.5,605.5 L711,604.0 L713,604.7 L715,604.3 L717,603.0 L717.5,601.9 L719,605.0 L721,608.7 L723,614.7 L725,615.7 L727,616.4 L729,616.5 L731,612.6 L732.5,614.0 L733,614.4 L735,616.6 L737,615.7 L739,616.4 L740,616.8 L741,620.6 L742.5,621.9 L743,621.2 L745,623.4 L746,623.9 L747,620.6 L749,616.4 L751,615.6 L752.5,611.6 L753,614.3 L755,613.3 L757,613.5 L757.5,614.5 L759,614.2 L760,615.0 L761,618.2 L762.5,619.8 L763,619.9 L765,619.2 L767,620.1 L767.5,620.6 L769,619.1 L770,619.2 L771,616.3 L772.5,618.0 L773,618.0 L775,621.1 L777,623.1 L779,623.6 L780,622.8 L781,625.2 L783,621.8 L785,621.0 L787,619.3 L787.5,618.7 L789,617.5 L791,615.3 L792.5,610.0 L793,607.8 L795,595.1 L796,590.0 L797,589.3 L797.5,587.9 L799,586.9 L801,586.3 L803,588.8 L805,587.8 L806,585.6 L807,587.1 L808,587.8 L809,531.7 L810,475.3 L810.5,447.4 L811,446.2 L813,445.2 L815,442.6 L816.6,441.5 L817,439.4 L817.5,438.0 L819,431.5 L820,426.0 L820.7,420.7 L821,421.4 L822.5,428.2 L823,429.9 L824.8,437.3 L825,435.6 L827,432.9 L827.5,435.4 L829,430.8 L830,430.0 L830.3,430.3 L831,430.6 L832.5,426.0 L833,424.4 L834,422.3 L835,370.7 L835.5,345.1 L835.9,326.7 L837,393.9 L837.7,436.7 L838.9,435.2 L839,433.8 L840,437.8 L841,435.9 L842.4,429.6 L843,427.4 L843.6,422.6 L844.8,418.7 L845,420.1 L846,415.2 L847,410.0 L848.3,403.4 L848.75,398.0 L849,394.7 L849.4,391.8 L850.6,376.8 L851,372.7 L851.8,363.5 L852.5,358.6 L853,354.9 L854,348.5 L855,340.6 L855.3,338.5 L857,340.8 L857.7,344.9 L858.75,346.3 L858.8,348.8 L859,346.4 L861,321.8 L862.9,298.5 L863,297.3 L863.5,293.2 L863.75,296.8 L864.8,306.0 L865,307.0 L866,319.2 L866.2,322.3 L867,319.5 L867.7,316.4 L868.75,314.5 L869,311.8 L870.6,324.0 L871,327.9 L872.5,341.6 L873,345.1 L873.1,346.8 L873.75,339.7 L875,326.9 L875.4,322.7 L875.9,321.1 L876,322.6 L877,335.1 L877.3,337.3 L878.75,359.0 L879,363.8 L879.3,367.5 L880,376.4 L881,369.0 L882.2,360.1 L882.5,355.1 L882.8,350.6 L883,351.9 L885,360.5 L885.1,362.4 L886.9,368.1 L887,369.9 L888,368.5 L888.75,366.3 L889,364.2 L889.7,365.4 L891,364.9 L891.8,422.4 L892.5,469.4 L893,474.5 L893.75,485.5 L895,487.3 L897,494.5 L897.5,494.7 L899,496.6 L900,498.3 L901,504.9 L902.5,515.2 L903,520.1 L905,529.4 L906,538.3 L907,546.4 L907.5,553.9 L909,566.5 L910,575.1 L911,575.0 L912.5,576.9 L913,579.9 L915,582.1 L917,585.0 L917.5,586.8 L919,589.3 L920,588.2 L921,576.4 L922.5,563.9 L923,565.2 L925,566.2 L927,571.6 L927.5,572.0 L929,573.2 L930,573.9 L931,574.1 L932.5,574.4 L933,575.7 L935,578.3 L937,584.2 L939,584.9 L940,589.0 L941,586.2 L943,584.6 L945,585.2 L947,584.7 L947.5,583.0 L949,589.3 L951,601.6 L952.5,592.2 L953,591.4 L955,576.8 L957,575.1 L957.5,577.0 L959,573.0 L961,571.9 L963,572.4 L965,571.6 L967,570.7 L969,571.4 L970,571.9 L971,576.4 L972.5,576.6 L973,577.9 L975,578.3 L977,575.5 L977.5,574.1 L979,578.9 L980,580.0 L981,579.8 L982.5,583.2 L983,585.2 L985,597.4 L986,602.3 L987,605.3 L987.5,607.4 L989,607.5 L990,609.1 L991,606.0 L992.5,605.9 L993,603.9 L995,595.4 L997,585.5 L997.5,580.7 L999,580.0 L1000,580.7 L1001,581.5 L1003,584.7 L1004.1,582.9 L1005,585.1 L1006.9,588.4 L1007,589.1 L1009,592.1 L1011,594.4 L1012.5,595.1 L1013,595.2 L1013.8,596.2 L1015,596.2 L1017,590.9 L1017.9,589.1 L1019,589.7 L1019.3,588.0 L1021,583.2 L1022,580.4 L1023,580.4 L1024.8,576.6 L1025,581.2 L1027,599.8 L1027.6,606.0 L1029,593.2 L1030.3,581.8 L1031,580.4 L1033,580.5 L1033.1,582.0 L1035,580.2 L1037,577.8 L1038.6,577.0 L1039,577.6 L1041,576.3 L1043,575.0 L1044.1,574.6 L1045,572.8 L1047,567.2 L1048.3,567.3 L1049,564.7 L1049.7,564.2 L1051,566.2 L1052.4,570.4 L1053,569.8 L1055,573.3 L1055.2,573.4 L1057,578.3 L1057.9,584.0 L1059,583.7 L1060.7,582.0 L1061,581.7 L1063,583.6 L1063.4,582.5 L1064.8,580.4 L1065,582.1 L1066.2,581.8 L1067,583.6 L1069,581.1 L1071,581.9 L1071.7,583.7 L1073,585.0 L1074.5,586.1 L1075,571.4 L1075.9,550.7 L1077,525.0 L1077.2,520.4 L1078.6,524.5 L1079,524.5 L1081,526.9 L1082.8,526.0 L1083,527.5 L1085,528.3 L1085.5,527.4 L1087,530.6 L1088.3,533.4 L1089,530.1 L1091,530.2 L1093,530.1 L1093.8,528.2 L1095,527.8 L1095.2,526.7 L1096.6,526.1 L1097,525.9 L1097.9,526.8 L1099,526.8 L1099.3,525.0 L1101,522.1 L1102,522.0 L1103,523.0 L1103.4,521.4 L1104.8,559.9 L1105,560.8 L1106.2,571.5 L1107,577.0 L1107.6,579.0 L1109,574.6 L1110.3,572.3 L1111,571.7 L1113,567.5 L1113.1,565.3 L1115,557.1 L1115.9,555.5 L1117,550.8 L1118.6,543.6 L1119,540.7 L1121,529.6 L1121.4,525.3 L1123,520.9 L1125,514.2 L1125.5,512.6 L1126.9,510.3 L1127,511.6 L1129,506.5 L1131,501.8 L1132.4,501.2 L1133,500.2 L1135,500.6 L1135.2,504.0 L1137,505.1 L1137.9,507.4 L1139,507.3 L1141,511.0 L1142,510.9 L1143,510.1 L1143.4,509.0 L1144.8,518.1 L1145,520.4 L1145.4,524.2 L1147,510.3 L1149,497.5 L1150.7,485.1 L1151,486.0 L1151.7,485.9 L1153,488.4 L1155,493.4 L1156,497.6 L1157,494.7 L1158.6,494.9 L1159,496.4 L1160,497.6 L1161,488.2 L1161.2,485.3 L1162.8,477.7 L1163,477.8 L1163.8,471.0 L1165,466.8 L1165.5,468.9 L1167,465.7 L1169,464.8 L1169.7,463.4 L1171,462.4 L1171.7,458.8 L1173,455.2 L1173.8,450.3 L1175,445.6 L1177,439.6 L1177.9,447.6 L1179,454.0 L1180.7,466.8 L1181,469.6 L1182.2,480.0 L1183,472.4 L1183.4,467.5 L1185,452.9 L1186.2,444.1 L1187,438.5 L1187.4,431.9 L1189,430.9 L1189.8,431.2 L1190,428.4" stroke="#5340e8"/>
<path d="M93,583.9 L93.5,584.4 L95.5,585.6 L98,582.9 L100.5,583.1 L101.8,583.2 L103,580.7 L105.5,581.3 L107.3,580.5 L108,581.5 L110.5,579.3 L113,581.9 L115.5,581.7 L115.6,585.1 L118,583.7 L120.5,580.9 L123,585.4 L123.9,584.3 L125.5,581.0 L128,577.6 L130.5,575.6 L133,575.4 L133.5,577.7 L135.5,574.0 L137,574.2 L138,576.0 L139.7,578.1 L140.5,584.9 L141.8,592.1 L143,594.4 L145.5,593.6 L147.3,595.2 L148,594.6 L150.5,596.5 L152.8,596.3 L153,595.6 L155.5,597.9 L158,596.2 L159.7,595.0 L160.5,594.4 L163,592.5 L165.5,592.2 L166.6,592.4 L168,591.0 L170.5,593.6 L171,591.3 L173,591.8 L173.5,588.9 L175.5,594.8 L176.3,594.9 L178,591.5 L180.5,593.4 L183,596.3 L184.6,594.0 L185.5,596.8 L188,594.1 L189.9,593.5 L190.5,595.9 L193,595.2 L195.5,592.1 L198,590.9 L200.5,591.2 L201,593.6 L203,584.4 L204.8,574.8 L205.5,574.6 L208,569.4 L209.8,566.3 L210.5,569.4 L213,565.5 L215.5,567.3 L216,566.2 L218,564.5 L220.5,566.1 L222.2,562.3 L223,566.0 L225.5,565.6 L228,570.0 L229.6,570.3 L230.5,569.4 L233,568.4 L235.5,563.1 L235.8,560.7 L238,563.0 L240.5,558.8 L240.8,560.3 L243,563.8 L245.5,564.5 L247,563.6 L248,568.2 L250.5,564.5 L252,565.9 L253,570.4 L255.5,574.3 L257,578.3 L258,571.9 L260.5,558.8 L260.7,559.9 L263,554.8 L264.4,554.9 L265.5,551.9 L268,548.8 L269.4,548.8 L270.5,545.8 L273,545.4 L274.3,545.8 L275.5,542.0 L278,541.3 L279.3,543.8 L280.5,543.3 L283,542.0 L285.5,543.2 L288,539.0 L289.3,536.0 L290.5,533.9 L293,540.4 L294.2,540.5 L295.5,541.6 L298,545.1 L300.5,541.3 L303,538.8 L304.2,541.7 L305.5,538.1 L308,541.8 L310.5,540.1 L311.6,543.5 L313,542.8 L315.5,543.5 L318,544.9 L320,548.7 L320.5,545.4 L323,546.7 L325.5,547.9 L328,549.0 L329.1,547.7 L330.5,546.8 L333,550.5 L335,547.3 L335.5,547.3 L338,549.1 L340.5,550.2 L341.3,548.6 L343,550.8 L345.5,553.5 L348,556.3 L348.8,554.9 L350.5,550.7 L353,544.5 L353.4,543.2 L355.5,536.9 L358,531.6 L360.5,531.5 L363,530.2 L365.5,530.6 L368,531.8 L370.5,537.0 L371.6,535.9 L373,537.3 L375.5,532.9 L378,536.5 L380.5,535.1 L380.7,536.5 L383,535.1 L385.5,539.4 L388,535.5 L389.8,539.1 L390.5,539.3 L393,540.0 L395.5,539.1 L398,539.2 L398.9,539.5 L400.5,540.3 L403,538.1 L405.5,540.5 L408,541.5 L410.5,549.8 L411.1,549.9 L413,552.4 L415.5,552.9 L417.1,552.1 L418,552.3 L420.5,550.5 L423,551.0 L423.2,550.9 L425.5,549.4 L428,553.1 L430.5,555.0 L432.3,554.9 L433,554.1 L435.5,551.9 L438,552.8 L440.5,550.9 L441.4,550.2 L443,551.1 L445.5,545.8 L448,548.0 L450.5,542.5 L453,544.3 L453.6,542.7 L455.5,543.1 L458,547.0 L460.5,547.3 L462.7,549.6 L463,550.4 L465.5,544.1 L468,540.5 L468.8,540.9 L470,539.3 L470.5,534.6 L473,523.4 L474.6,519.1 L475.5,516.9 L478,514.7 L480.5,515.3 L482.1,511.5 L483,513.0 L485.5,509.0 L488,509.0 L489.7,509.3 L490.5,507.7 L491,506.4 L493,503.7 L495.5,504.5 L497.3,502.6 L498,501.8 L500.5,502.5 L503,502.6 L504.9,501.6 L505.5,500.2 L508,497.9 L510.5,491.2 L512.5,488.6 L513,487.0 L515.5,472.1 L518,476.2 L520.1,480.5 L520.5,480.9 L523,477.7 L525.5,474.5 L526.2,476.2 L528,477.3 L530.5,476.3 L532.2,475.9 L533,475.4 L535.5,477.2 L538,470.9 L538.3,474.5 L540.5,469.5 L542.9,464.7 L543,466.9 L545.5,461.4 L547.4,461.4 L548,464.3 L550.5,469.6 L552,478.1 L553,476.3 L555.5,480.7 L558,484.4 L560.5,491.2 L561.1,490.9 L563,487.6 L565.5,481.9 L567.1,478.9 L568,479.1 L570.5,476.8 L573,473.9 L574.7,474.8 L575.5,469.3 L578,456.9 L580.5,447.1 L582.3,439.1 L583,436.5 L585.5,436.8 L588,436.5 L590.5,430.5 L592,424.9 L592.5,439.5 L593,433.4 L595.5,398.5 L596,393.9 L598,385.3 L600,372.9 L600.5,375.8 L603,366.5 L605,358.3 L605.5,358.1 L608,348.5 L609,345.7 L610.5,352.1 L612.5,365.5 L613,368.7 L615.5,378.8 L616,381.8 L618,372.0 L620,365.8 L620.5,362.0 L623,356.9 L624,353.6 L625.5,354.0 L627.5,355.9 L628,359.4 L629,374.5 L630.5,368.2 L633,358.3 L634,352.3 L635.5,357.0 L637.5,358.9 L638,364.8 L640.5,377.7 L642.5,386.6 L643,384.3 L645.5,378.6 L647.5,372.7 L648,374.9 L650.5,379.7 L652.5,383.0 L653,390.0 L655.5,402.0 L656,409.3 L658,394.5 L660,384.6 L660.5,387.3 L663,389.2 L665,393.8 L665.5,393.3 L668,383.9 L670,376.3 L670.5,373.6 L673,364.8 L675,354.6 L675.5,357.8 L678,357.3 L680,361.7 L680.5,363.0 L683,363.0 L685,366.2 L685.5,364.1 L688,357.5 L690,354.0 L690.5,353.5 L693,357.7 L695,362.1 L695.5,365.3 L698,371.4 L700,373.4 L700.5,377.6 L703,381.2 L705,382.3 L705.5,384.1 L708,388.6 L710,395.4 L710.5,394.4 L713,392.5 L715,387.8 L715.5,398.0 L717.5,417.1 L718,416.4 L720.5,414.4 L722.5,410.0 L723,407.1 L725.5,393.4 L727.5,378.9 L728,380.9 L730,377.0 L730.5,377.8 L733,368.1 L733.1,365.0 L735.5,374.3 L736.9,377.1 L738,371.7 L739.4,363.9 L740.5,364.7 L741,363.1 L743,372.1 L743.75,375.1 L745.5,393.7 L746.25,401.7 L747.5,426.8 L748,426.2 L750.5,401.3 L751.25,396.6 L753,399.1 L755.5,404.9 L756.25,404.0 L758,402.7 L760.5,401.1 L761,398.1 L763,392.6 L765,380.6 L765.5,384.9 L768,393.3 L770,401.4 L770.5,403.6 L773,406.7 L775,409.5 L775.5,411.7 L778,422.2 L778.75,423.5 L780.5,417.7 L783,410.5 L785,403.0 L785.5,401.0 L788,395.0 L790,387.7 L790.5,388.3 L793,381.7 L795.5,381.0 L798,377.2 L798.75,376.6 L800.5,382.0 L802.5,391.9 L803,394.0 L805.5,387.9 L807.5,390.0 L808,389.8 L810.5,392.1 L811,394.2 L813,384.9 L815,371.2 L815.5,370.0 L818,368.3 L820,361.8 L820.5,364.7 L823,365.1 L825,370.0 L825.5,367.5 L828,347.7 L828.75,344.1 L830.5,353.0 L832.5,361.6 L833,358.0 L835.5,335.5 L835.8,335.7 L838,318.9 L839.7,304.1 L840.5,296.6 L842.6,271.9 L843,270.5 L845.5,262.4 L848,251.9 L849.3,248.9 L850.5,235.5 L851.3,227.3 L853,234.9 L855.1,247.2 L855.5,246.0 L858,241.4 L859,238.5 L860.5,239.2 L861.9,236.5 L863,224.8 L863.8,219.7 L865.5,220.2 L866.7,224.5 L868,228.8 L868.6,233.0 L870.5,222.8 L871.5,217.1 L873,206.3 L874.4,192.8 L875.5,207.0 L878,231.2 L878.3,231.2 L880.5,238.4 L882.2,243.5 L883,243.1 L885.5,246.3 L886,247.1 L888,249.9 L888.9,248.0 L890.5,243.9 L891.8,235.7 L893,229.9 L894.7,222.7 L895.5,229.0 L897.6,247.8 L898,249.0 L900.5,249.6 L901.5,252.3 L903,235.1 L904.4,218.1 L905.5,213.6 L907,201.7 L908,201.8 L910.5,201.0 L911,199.1 L913,213.8 L914.2,220.6 L915.5,211.2 L917.3,199.7 L918,205.2 L920.5,223.9 L921.4,232.9 L923,231.3 L925.5,235.6 L928,235.0 L930.5,232.1 L931.8,233.6 L933,234.2 L935.5,233.5 L936.9,231.5 L938,237.6 L940,240.3 L940.5,246.4 L943,283.8 L944.2,300.2 L945.5,289.1 L948,267.0 L948.3,267.2 L950.5,266.2 L953,292.0 L954.5,307.3 L955.5,305.7 L958,295.2 L958.7,296.9 L960.5,294.4 L963,289.0 L964.9,287.5 L965.5,284.2 L968,278.9 L969,276.9 L970.5,283.0 L973,296.3 L973.2,299.9 L975.5,296.7 L977.3,296.1 L978,302.3 L980.5,315.2 L981.4,323.0 L983,310.7 L985.5,295.9 L985.6,291.8 L988,293.1 L990.5,291.6 L991.8,287.5 L993,279.2 L994.9,254.6 L995.5,255.4 L998,247.7 L1000.1,244.5 L1000.5,244.2 L1003,238.8 L1003.75,242.4 L1005.5,235.7 L1006.25,235.3 L1008,242.4 L1008.75,244.3 L1010.5,217.9 L1011.25,208.3 L1013,204.1 L1013.75,201.5 L1015.5,206.0 L1017.5,206.4 L1018,204.9 L1020.5,202.8 L1021.25,200.6 L1023,185.2 L1024.5,173.8 L1025.5,174.2 L1027.5,181.9 L1028,181.2 L1030,180.4 L1030.5,187.7 L1033,199.9 L1033.75,200.3 L1035.5,200.2 L1036.25,195.2 L1038,201.5 L1038.75,205.8 L1040.5,191.1 L1042.5,180.4 L1043,185.0 L1045,196.6 L1045.5,194.7 L1047.5,193.2 L1048,194.3 L1050,202.8 L1050.5,202.4 L1053,213.4 L1053.75,214.6 L1055.5,202.1 L1057.5,188.3 L1058,190.2 L1060.5,186.8 L1062.5,187.6 L1063,186.9 L1065,180.7 L1065.5,180.2 L1068,182.8 L1068.75,182.0 L1070.5,165.1 L1072.5,142.4 L1073,142.0 L1075,130.3 L1075.5,131.5 L1077.5,137.5 L1078,137.3 L1080.5,140.8 L1082.5,139.6 L1083,140.2 L1085.5,144.3 L1086,145.1 L1088,140.8 L1088.75,137.6 L1090.5,139.8 L1091,140.5 L1093,156.3 L1093.75,159.4 L1095.5,157.4 L1097.5,157.3 L1098,153.6 L1100.5,139.9 L1102.5,125.2 L1103,127.0 L1105,131.8 L1105.5,134.3 L1108,145.1 L1110,150.6 L1110.5,153.4 L1113,152.5 L1113.75,153.6 L1115.5,163.1 L1117.5,170.0 L1118,172.2 L1120.5,179.3 L1121.25,182.5 L1123,175.9 L1125,170.6 L1125.5,172.0 L1128,171.5 L1128.75,167.9 L1130.5,159.9 L1132.5,152.6 L1133,150.6 L1135.5,148.5 L1137.5,143.5 L1138,146.6 L1140.5,153.9 L1141.25,159.1 L1143,164.0 L1145.5,176.4 L1146.25,180.7 L1148,156.0 L1150,132.9 L1150.5,131.4 L1153,121.4 L1155,110.6 L1155.5,112.7 L1158,120.8 L1160.5,157.9 L1161.25,163.7 L1162.5,156.1 L1163,162.4 L1165.5,183.3 L1166.25,190.9 L1168,181.9 L1170,176.4 L1170.5,170.7 L1173,161.4 L1175,154.6 L1175.5,155.2 L1178,174.3 L1178.75,181.1 L1180.5,177.1 L1181.25,173.9 L1183,194.6 L1183.75,204.6 L1185.5,212.2 L1186.25,212.9 L1188,199.8 L1188.75,197.2 L1190.5,202.6" stroke="#151515" stroke-width="2.2"/>
</g>
<line x1="589.6" y1="162.7" x2="1134" y2="259.6" stroke="#9a9a9a" stroke-width="4" stroke-dasharray="15.4 12.1"/>
<polygon points="1136.5,247.5 1171,267 1132,274" fill="#9a9a9a"/>
<rect x="85" y="88" width="2" height="582" fill="#111"/>
<rect x="1196.3" y="87" width="1.9" height="583" fill="#d4d4d4"/>
<line x1="190" x2="190" y1="670" y2="678" stroke="#ececec"/><line x1="304" x2="304" y1="670" y2="678" stroke="#ececec"/><line x1="423" x2="423" y1="670" y2="678" stroke="#ececec"/><line x1="540" x2="540" y1="670" y2="678" stroke="#ececec"/><line x1="655" x2="655" y1="670" y2="678" stroke="#ececec"/><line x1="772" x2="772" y1="670" y2="678" stroke="#ececec"/><line x1="889" x2="889" y1="670" y2="678" stroke="#ececec"/><line x1="1004" x2="1004" y1="670" y2="678" stroke="#ececec"/><line x1="1121" x2="1121" y1="670" y2="678" stroke="#ececec"/>
<g font-family="Liberation Sans, sans-serif" font-size="16" fill="#222"><text x="74" y="676.5" text-anchor="end">0</text><text x="74" y="541.9" text-anchor="end">30K</text><text x="74" y="407.3" text-anchor="end">60K</text><text x="74" y="272.7" text-anchor="end">90K</text><text x="74" y="138.1" text-anchor="end">120K</text><text x="1210" y="675.5">0</text><text x="1210" y="554.9">250K</text><text x="1210" y="434.3">500K</text><text x="1210" y="313.7">750K</text><text x="1210" y="193.1">1M</text></g>
<g font-family="Liberation Sans, sans-serif" font-size="13.7" fill="#808080"><text x="191" y="695" text-anchor="middle">2023 Jan</text><text x="305" y="695" text-anchor="middle">2023 May</text><text x="424" y="695" text-anchor="middle">2023 Sep</text><text x="541" y="695" text-anchor="middle">2024 Jan</text><text x="656" y="695" text-anchor="middle">2024 May</text><text x="773" y="695" text-anchor="middle">2024 Sep</text><text x="890" y="695" text-anchor="middle">2025 Jan</text><text x="1005" y="695" text-anchor="middle">2025 May</text><text x="1122" y="695" text-anchor="middle">2025 Sep</text></g>
<text transform="translate(25.5,378.5) rotate(-90)" text-anchor="middle" font-family="Liberation Sans, sans-serif" font-size="16.5" fill="#222">Price ($)</text>
<text transform="translate(1257.5,379) rotate(90)" text-anchor="middle" font-family="Liberation Sans, sans-serif" font-size="16.6" fill="#222">Amount of Bitcoin</text>
<g font-family="Liberation Sans, sans-serif" font-size="35.9" fill="#151515" stroke="#f1f1f1" stroke-width="0.6" text-anchor="end">
<text x="551" y="144.5">High level of selling</text>
<text x="551" y="194.5">from LTHs.</text>
</g>
</svg>
<div class="title">Bitcoin: Long-term Holder Spending (30-day sum, # of Bitcoin)</div>
<div class="legend">
<span class="dot" style="left:404px;background:#b955e6"></span><span class="li" style="left:427px">7 year +</span>
<span class="dot" style="left:506px;background:#f29a58"></span><span class="li" style="left:528px">3y -7y</span>
<span class="dot" style="left:597px;background:#e56fa2"></span><span class="li" style="left:619px">18m - 3y</span>
<span class="dot" style="left:707px;background:#4d3ae8"></span><span class="li" style="left:729px">6m - 18m</span>
<span class="li" style="left:820px">— Price</span>
</div>
<div class="copy">© CryptoQuant. All rights reserved</div>
</body></html>
